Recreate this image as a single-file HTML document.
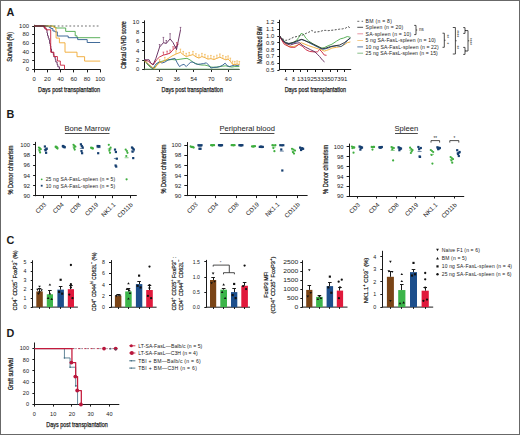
<!DOCTYPE html>
<html><head><meta charset="utf-8"><style>
html,body{margin:0;padding:0;background:#fff;}
body{width:520px;height:435px;overflow:hidden;position:relative;}
svg{position:absolute;left:0;top:0;}
text{font-family:"Liberation Sans",sans-serif;fill:#1a1a1a;stroke:#1a1a1a;stroke-width:0px;}
.t{stroke-width:0.25px;}
.m{stroke-width:0.12px;}
.r{stroke-width:0.2px;}
.n{stroke-width:0px;}
.frame{position:absolute;left:0;top:0;width:518px;height:433px;border:1px solid #686868;pointer-events:none;}
</style></head><body>
<svg width="520" height="435" viewBox="0 0 520 435">
<rect width="520" height="435" fill="#fff"/>
<text x="6.5" y="15.7" font-size="10.8" font-weight="bold" fill="#111">A</text>
<text x="6.5" y="117.9" font-size="10.8" font-weight="bold" fill="#111">B</text>
<text x="6.5" y="244.3" font-size="10.8" font-weight="bold" fill="#111">C</text>
<text x="6.5" y="337" font-size="10.8" font-weight="bold" fill="#111">D</text>
<line x1="34.5" y1="24.8" x2="34.5" y2="70" stroke="#1a1a1a" stroke-width="1"/>
<line x1="33.6" y1="69.5" x2="100.6" y2="69.5" stroke="#1a1a1a" stroke-width="1"/>
<line x1="32.2" y1="69.5" x2="34" y2="69.5" stroke="#1a1a1a" stroke-width="1"/>
<text x="29" y="71.3" font-size="5" text-anchor="end" textLength="3.3" lengthAdjust="spacingAndGlyphs" fill="#333">0</text>
<line x1="32.2" y1="60.5" x2="34" y2="60.5" stroke="#1a1a1a" stroke-width="1"/>
<text x="29" y="62.58" font-size="5" text-anchor="end" textLength="6.6" lengthAdjust="spacingAndGlyphs" fill="#333">20</text>
<line x1="32.2" y1="52.5" x2="34" y2="52.5" stroke="#1a1a1a" stroke-width="1"/>
<text x="29" y="53.86" font-size="5" text-anchor="end" textLength="6.6" lengthAdjust="spacingAndGlyphs" fill="#333">40</text>
<line x1="32.2" y1="43.5" x2="34" y2="43.5" stroke="#1a1a1a" stroke-width="1"/>
<text x="29" y="45.14" font-size="5" text-anchor="end" textLength="6.6" lengthAdjust="spacingAndGlyphs" fill="#333">60</text>
<line x1="32.2" y1="34.5" x2="34" y2="34.5" stroke="#1a1a1a" stroke-width="1"/>
<text x="29" y="36.42" font-size="5" text-anchor="end" textLength="6.6" lengthAdjust="spacingAndGlyphs" fill="#333">80</text>
<line x1="32.2" y1="26.5" x2="34" y2="26.5" stroke="#1a1a1a" stroke-width="1"/>
<text x="29" y="27.7" font-size="5" text-anchor="end" textLength="9.9" lengthAdjust="spacingAndGlyphs" fill="#333">100</text>
<line x1="34.5" y1="69.6" x2="34.5" y2="72.4" stroke="#1a1a1a" stroke-width="1"/>
<text x="34.2" y="80.5" font-size="5" text-anchor="middle" textLength="3.3" lengthAdjust="spacingAndGlyphs" fill="#333">0</text>
<line x1="47.5" y1="69.6" x2="47.5" y2="72.4" stroke="#1a1a1a" stroke-width="1"/>
<text x="47.4" y="80.5" font-size="5" text-anchor="middle" textLength="6.6" lengthAdjust="spacingAndGlyphs" fill="#333">20</text>
<line x1="60.5" y1="69.6" x2="60.5" y2="72.4" stroke="#1a1a1a" stroke-width="1"/>
<text x="60.6" y="80.5" font-size="5" text-anchor="middle" textLength="6.6" lengthAdjust="spacingAndGlyphs" fill="#333">40</text>
<line x1="73.5" y1="69.6" x2="73.5" y2="72.4" stroke="#1a1a1a" stroke-width="1"/>
<text x="73.8" y="80.5" font-size="5" text-anchor="middle" textLength="6.6" lengthAdjust="spacingAndGlyphs" fill="#333">60</text>
<line x1="87.5" y1="69.6" x2="87.5" y2="72.4" stroke="#1a1a1a" stroke-width="1"/>
<text x="87" y="80.5" font-size="5" text-anchor="middle" textLength="6.6" lengthAdjust="spacingAndGlyphs" fill="#333">80</text>
<line x1="100.5" y1="69.6" x2="100.5" y2="72.4" stroke="#1a1a1a" stroke-width="1"/>
<text x="100.2" y="80.5" font-size="5" text-anchor="middle" textLength="9.9" lengthAdjust="spacingAndGlyphs" fill="#333">100</text>
<text x="69.1" y="92.2" font-size="7.5" text-anchor="middle" textLength="62" lengthAdjust="spacingAndGlyphs" class="t">Days post transplantation</text>
<text x="12.4" y="46.9" font-size="6.8" text-anchor="middle" textLength="29.8" lengthAdjust="spacingAndGlyphs" transform="rotate(-90 12.4 46.9)" class="t">Survival (%)</text>
<polyline points="34,26 54.3,26 54.3,27.4 56,27.4 56,28 65.7,28 65.7,31.4 75.2,31.4 75.2,35.8 77,35.8 77,37.7 100.2,37.7 100.2,37.7" fill="none" stroke="#4aa84a" stroke-width="0.9" stroke-linejoin="round"/>
<polyline points="34,26 49,26 49,27.3 50.8,27.3 50.8,28.6 52.9,28.6 52.9,31 55,31 55,31.9 57.3,31.9 57.3,36 68.2,36 68.2,37.7 77.7,37.7 77.7,39.6 87.2,39.6 87.2,42.5 100.2,42.5 100.2,42.5" fill="none" stroke="#2d5b8e" stroke-width="0.9" stroke-linejoin="round"/>
<polyline points="34,26 53,26 53,27 55,27 55,28 55.8,28 55.8,29.8 56.1,29.8 56.1,38.1 59.4,38.1 59.4,42.8 65,42.8 65,52.2 77,52.2 77,56.7 84.6,56.7 84.6,61.1 100.2,61.1 100.2,61.1" fill="none" stroke="#f0a830" stroke-width="0.9" stroke-linejoin="round"/>
<polyline points="34,26 43.9,26 43.9,27.5 44.8,27.5 44.8,28.8 46.4,28.8 46.4,29.8 47,29.8 47,33 47.5,33 47.5,35.7 48.3,35.7 48.3,38 49,38 49,40 49.6,40 49.6,43.5 50.3,43.5 50.3,46 50.8,46 50.8,49 51.5,49 51.5,52.4 53.3,52.4 53.3,54.5 53.9,54.5 53.9,56.9 55.2,56.9 55.2,59.4 55.8,59.4 55.8,62 57.1,62 57.1,64.6 57.8,64.6 57.8,66.8 59.4,66.8 59.4,69.6" fill="none" stroke="#5e2357" stroke-width="0.9" stroke-linejoin="round"/>
<polyline points="34,26 44.5,26 44.5,27.8 46,27.8 46,29.8 50.7,29.8 50.7,52.2 53.9,52.2 53.9,56.5 57.4,56.5 57.4,61 60.3,61 60.3,65.2 64.5,65.2 64.5,69.6" fill="none" stroke="#c8203c" stroke-width="0.9" stroke-linejoin="round"/>
<line x1="34" y1="26" x2="46" y2="26" stroke="#333" stroke-width="0.9"/>
<line x1="46" y1="26" x2="100.2" y2="26" stroke="#555" stroke-width="0.85" stroke-dasharray="1.8 2.1"/>
<line x1="144.5" y1="20.4" x2="144.5" y2="70.1" stroke="#1a1a1a" stroke-width="1"/>
<line x1="144.1" y1="69.5" x2="239.6" y2="69.5" stroke="#1a1a1a" stroke-width="1"/>
<line x1="142.2" y1="69.5" x2="144.5" y2="69.5" stroke="#1a1a1a" stroke-width="1"/>
<text x="139.2" y="71.4" font-size="5" text-anchor="end" textLength="3.3" lengthAdjust="spacingAndGlyphs" fill="#333">0</text>
<line x1="142.2" y1="60.5" x2="144.5" y2="60.5" stroke="#1a1a1a" stroke-width="1"/>
<text x="139.2" y="62" font-size="5" text-anchor="end" textLength="3.3" lengthAdjust="spacingAndGlyphs" fill="#333">2</text>
<line x1="142.2" y1="50.5" x2="144.5" y2="50.5" stroke="#1a1a1a" stroke-width="1"/>
<text x="139.2" y="52.6" font-size="5" text-anchor="end" textLength="3.3" lengthAdjust="spacingAndGlyphs" fill="#333">4</text>
<line x1="142.2" y1="41.5" x2="144.5" y2="41.5" stroke="#1a1a1a" stroke-width="1"/>
<text x="139.2" y="43.2" font-size="5" text-anchor="end" textLength="3.3" lengthAdjust="spacingAndGlyphs" fill="#333">6</text>
<line x1="142.2" y1="32.5" x2="144.5" y2="32.5" stroke="#1a1a1a" stroke-width="1"/>
<text x="139.2" y="33.8" font-size="5" text-anchor="end" textLength="3.3" lengthAdjust="spacingAndGlyphs" fill="#333">8</text>
<line x1="142.2" y1="22.5" x2="144.5" y2="22.5" stroke="#1a1a1a" stroke-width="1"/>
<text x="139.2" y="24.4" font-size="5" text-anchor="end" textLength="6.6" lengthAdjust="spacingAndGlyphs" fill="#333">10</text>
<line x1="159.5" y1="69.9" x2="159.5" y2="71.9" stroke="#1a1a1a" stroke-width="1"/>
<text x="159.6" y="80.5" font-size="5" text-anchor="middle" textLength="6.6" lengthAdjust="spacingAndGlyphs" fill="#333">20</text>
<line x1="176.5" y1="69.9" x2="176.5" y2="71.9" stroke="#1a1a1a" stroke-width="1"/>
<text x="176.8" y="80.5" font-size="5" text-anchor="middle" textLength="6.6" lengthAdjust="spacingAndGlyphs" fill="#333">36</text>
<line x1="193.5" y1="69.9" x2="193.5" y2="71.9" stroke="#1a1a1a" stroke-width="1"/>
<text x="193.7" y="80.5" font-size="5" text-anchor="middle" textLength="6.6" lengthAdjust="spacingAndGlyphs" fill="#333">54</text>
<line x1="211.5" y1="69.9" x2="211.5" y2="71.9" stroke="#1a1a1a" stroke-width="1"/>
<text x="211.3" y="80.5" font-size="5" text-anchor="middle" textLength="6.6" lengthAdjust="spacingAndGlyphs" fill="#333">70</text>
<line x1="228.5" y1="69.9" x2="228.5" y2="71.9" stroke="#1a1a1a" stroke-width="1"/>
<text x="228.4" y="80.5" font-size="5" text-anchor="middle" textLength="6.6" lengthAdjust="spacingAndGlyphs" fill="#333">90</text>
<text x="192.2" y="92.2" font-size="7.5" text-anchor="middle" textLength="61.5" lengthAdjust="spacingAndGlyphs" class="t">Days post transplantation</text>
<text x="126.2" y="45.1" font-size="6.8" text-anchor="middle" textLength="47.8" lengthAdjust="spacingAndGlyphs" transform="rotate(-90 126.2 45.1)" class="t">Clinical GVHD score</text>
<polyline points="144.5,69 239.3,69" fill="none" stroke="#8fc48f" stroke-width="0.9" stroke-linejoin="round"/>
<polyline points="144.5,60 147,64 150,67 153,69 156,66 159,62 163,61 167,60 172,59.5 175,59.84 177.99,59.54 180.98,59.1 183.97,58.65 186.97,58.35 189.96,59.84 192.95,62.09 195.94,63.58 198.93,64.63 201.92,65.07 204.91,65.07 207.9,65.82 210.9,67.02 213.89,67.32 216.88,67.02 219.87,66.57 222.86,66.12 225.85,65.82 228.84,66.57 231.84,67.02 234.83,66.57 239.31,66.57" fill="none" stroke="#4aa84a" stroke-width="0.9" stroke-linejoin="round"/>
<polyline points="144.5,59.5 147,63 150,66 153,68.5 156,64 159,62 162,63 165,62 168,60 172,59 175,58.35 177.24,62.83 179.49,66.57 181.73,65.07 183.97,64.33 186.22,66.57 188.46,64.33 190.7,62.09 192.95,62.09 195.19,63.58 197.43,64.33 200.43,64.03 203.42,63.58 206.41,62.83 208.65,65.07 210.9,68.06 213.89,67.32 216.88,67.32 219.87,66.57 222.86,65.07 225.1,63.13 227.35,65.82 229.59,66.57 231.84,65.82 234.83,65.07 237.07,65.52 239.31,65.07" fill="none" stroke="#2d5b8e" stroke-width="0.9" stroke-linejoin="round"/>
<polyline points="144.5,61.3 147,62.5 150,65.5 154.4,68.8 157,65 159.6,62.8 164.8,60.6 168,58.6 172,56 176,54 180.4,52.3 183.23,54.62 186.22,56.56 189.21,55.66 192.95,54.62 195.94,56.86 198.93,58.05 201.92,56.56 204.91,57.61 207.9,59.1 210.9,58.65 213.89,59.55 216.88,58.35 219.87,57.16 222.86,58.65 225.85,59.85 228.1,59.1 230.34,61.34 232.58,64.33 234.83,64.63 237.07,64.03 239.31,64.63" fill="none" stroke="#f0a830" stroke-width="0.9" stroke-linejoin="round"/>
<polyline points="144.6,59.8 148.4,61.3 151.4,63.6 153.5,64.5 156.6,59.8 159.6,56.9 163.4,55.1 167.1,54.2 170.1,53.1 173.1,49.7 176.8,45.6 178.6,43.8" fill="none" stroke="#c8203c" stroke-width="0.9" stroke-linejoin="round"/>
<polyline points="144.6,59.8 149.1,59.8 150.6,62.8 152.9,65 155.9,58.4 159.6,47.1 163.4,42.7 166.3,43.4 170.1,38.9 173.1,42.7 176.5,49.6 180.5,30" fill="none" stroke="#5e2357" stroke-width="0.9" stroke-linejoin="round"/>
<line x1="163.4" y1="42.7" x2="163.4" y2="37.4" stroke="#5e2357" stroke-width="0.6"/>
<line x1="162.6" y1="37.4" x2="164.2" y2="37.4" stroke="#5e2357" stroke-width="0.6"/>
<line x1="170.1" y1="38.9" x2="170.1" y2="33.7" stroke="#5e2357" stroke-width="0.6"/>
<line x1="169.3" y1="33.7" x2="170.9" y2="33.7" stroke="#5e2357" stroke-width="0.6"/>
<line x1="180.5" y1="30" x2="180.5" y2="27.4" stroke="#5e2357" stroke-width="0.6"/>
<line x1="179.7" y1="27.4" x2="181.3" y2="27.4" stroke="#5e2357" stroke-width="0.6"/>
<line x1="166.3" y1="43.4" x2="166.3" y2="40.5" stroke="#5e2357" stroke-width="0.6"/>
<line x1="165.5" y1="40.5" x2="167.1" y2="40.5" stroke="#5e2357" stroke-width="0.6"/>
<line x1="176.5" y1="49.6" x2="176.5" y2="46.5" stroke="#5e2357" stroke-width="0.6"/>
<line x1="175.7" y1="46.5" x2="177.3" y2="46.5" stroke="#5e2357" stroke-width="0.6"/>
<line x1="159.6" y1="47.1" x2="159.6" y2="44.5" stroke="#5e2357" stroke-width="0.6"/>
<line x1="158.8" y1="44.5" x2="160.4" y2="44.5" stroke="#5e2357" stroke-width="0.6"/>
<line x1="163.4" y1="55.1" x2="163.4" y2="52.1" stroke="#c8203c" stroke-width="0.6"/>
<line x1="162.6" y1="52.1" x2="164.2" y2="52.1" stroke="#c8203c" stroke-width="0.6"/>
<line x1="167.1" y1="54.2" x2="167.1" y2="51.2" stroke="#c8203c" stroke-width="0.6"/>
<line x1="166.3" y1="51.2" x2="167.9" y2="51.2" stroke="#c8203c" stroke-width="0.6"/>
<line x1="170.1" y1="53.1" x2="170.1" y2="50.1" stroke="#c8203c" stroke-width="0.6"/>
<line x1="169.3" y1="50.1" x2="170.9" y2="50.1" stroke="#c8203c" stroke-width="0.6"/>
<line x1="173.1" y1="49.7" x2="173.1" y2="46.7" stroke="#c8203c" stroke-width="0.6"/>
<line x1="172.3" y1="46.7" x2="173.9" y2="46.7" stroke="#c8203c" stroke-width="0.6"/>
<line x1="176.8" y1="45.6" x2="176.8" y2="42.6" stroke="#c8203c" stroke-width="0.6"/>
<line x1="176" y1="42.6" x2="177.6" y2="42.6" stroke="#c8203c" stroke-width="0.6"/>
<line x1="176" y1="54" x2="176" y2="50.8" stroke="#f0a830" stroke-width="0.6"/>
<line x1="175.2" y1="50.8" x2="176.8" y2="50.8" stroke="#f0a830" stroke-width="0.6"/>
<line x1="180.4" y1="52.3" x2="180.4" y2="49.1" stroke="#f0a830" stroke-width="0.6"/>
<line x1="179.6" y1="49.1" x2="181.2" y2="49.1" stroke="#f0a830" stroke-width="0.6"/>
<line x1="183.23" y1="54.62" x2="183.23" y2="51.42" stroke="#f0a830" stroke-width="0.6"/>
<line x1="182.43" y1="51.42" x2="184.03" y2="51.42" stroke="#f0a830" stroke-width="0.6"/>
<line x1="186.22" y1="56.56" x2="186.22" y2="53.36" stroke="#f0a830" stroke-width="0.6"/>
<line x1="185.42" y1="53.36" x2="187.02" y2="53.36" stroke="#f0a830" stroke-width="0.6"/>
<line x1="189.21" y1="55.66" x2="189.21" y2="52.46" stroke="#f0a830" stroke-width="0.6"/>
<line x1="188.41" y1="52.46" x2="190.01" y2="52.46" stroke="#f0a830" stroke-width="0.6"/>
<line x1="192.95" y1="54.62" x2="192.95" y2="51.42" stroke="#f0a830" stroke-width="0.6"/>
<line x1="192.15" y1="51.42" x2="193.75" y2="51.42" stroke="#f0a830" stroke-width="0.6"/>
<line x1="195.94" y1="56.86" x2="195.94" y2="53.66" stroke="#f0a830" stroke-width="0.6"/>
<line x1="195.14" y1="53.66" x2="196.74" y2="53.66" stroke="#f0a830" stroke-width="0.6"/>
<line x1="198.93" y1="58.05" x2="198.93" y2="54.85" stroke="#f0a830" stroke-width="0.6"/>
<line x1="198.13" y1="54.85" x2="199.73" y2="54.85" stroke="#f0a830" stroke-width="0.6"/>
<line x1="201.92" y1="56.56" x2="201.92" y2="53.36" stroke="#f0a830" stroke-width="0.6"/>
<line x1="201.12" y1="53.36" x2="202.72" y2="53.36" stroke="#f0a830" stroke-width="0.6"/>
<line x1="204.91" y1="57.61" x2="204.91" y2="54.41" stroke="#f0a830" stroke-width="0.6"/>
<line x1="204.11" y1="54.41" x2="205.71" y2="54.41" stroke="#f0a830" stroke-width="0.6"/>
<line x1="207.9" y1="59.1" x2="207.9" y2="55.9" stroke="#f0a830" stroke-width="0.6"/>
<line x1="207.1" y1="55.9" x2="208.7" y2="55.9" stroke="#f0a830" stroke-width="0.6"/>
<line x1="210.9" y1="58.65" x2="210.9" y2="55.45" stroke="#f0a830" stroke-width="0.6"/>
<line x1="210.1" y1="55.45" x2="211.7" y2="55.45" stroke="#f0a830" stroke-width="0.6"/>
<line x1="213.89" y1="59.55" x2="213.89" y2="56.35" stroke="#f0a830" stroke-width="0.6"/>
<line x1="213.09" y1="56.35" x2="214.69" y2="56.35" stroke="#f0a830" stroke-width="0.6"/>
<line x1="216.88" y1="58.35" x2="216.88" y2="55.15" stroke="#f0a830" stroke-width="0.6"/>
<line x1="216.08" y1="55.15" x2="217.68" y2="55.15" stroke="#f0a830" stroke-width="0.6"/>
<line x1="219.87" y1="57.16" x2="219.87" y2="53.96" stroke="#f0a830" stroke-width="0.6"/>
<line x1="219.07" y1="53.96" x2="220.67" y2="53.96" stroke="#f0a830" stroke-width="0.6"/>
<line x1="222.86" y1="58.65" x2="222.86" y2="55.45" stroke="#f0a830" stroke-width="0.6"/>
<line x1="222.06" y1="55.45" x2="223.66" y2="55.45" stroke="#f0a830" stroke-width="0.6"/>
<line x1="225.85" y1="59.85" x2="225.85" y2="56.65" stroke="#f0a830" stroke-width="0.6"/>
<line x1="225.05" y1="56.65" x2="226.65" y2="56.65" stroke="#f0a830" stroke-width="0.6"/>
<line x1="228.1" y1="59.1" x2="228.1" y2="55.9" stroke="#f0a830" stroke-width="0.6"/>
<line x1="227.3" y1="55.9" x2="228.9" y2="55.9" stroke="#f0a830" stroke-width="0.6"/>
<line x1="230.34" y1="61.34" x2="230.34" y2="58.14" stroke="#f0a830" stroke-width="0.6"/>
<line x1="229.54" y1="58.14" x2="231.14" y2="58.14" stroke="#f0a830" stroke-width="0.6"/>
<line x1="232.58" y1="64.33" x2="232.58" y2="61.13" stroke="#f0a830" stroke-width="0.6"/>
<line x1="231.78" y1="61.13" x2="233.38" y2="61.13" stroke="#f0a830" stroke-width="0.6"/>
<line x1="234.83" y1="64.63" x2="234.83" y2="61.43" stroke="#f0a830" stroke-width="0.6"/>
<line x1="234.03" y1="61.43" x2="235.63" y2="61.43" stroke="#f0a830" stroke-width="0.6"/>
<line x1="237.07" y1="64.03" x2="237.07" y2="60.83" stroke="#f0a830" stroke-width="0.6"/>
<line x1="236.27" y1="60.83" x2="237.87" y2="60.83" stroke="#f0a830" stroke-width="0.6"/>
<line x1="239.31" y1="64.63" x2="239.31" y2="61.43" stroke="#f0a830" stroke-width="0.6"/>
<line x1="238.51" y1="61.43" x2="240.11" y2="61.43" stroke="#f0a830" stroke-width="0.6"/>
<line x1="159.6" y1="62.8" x2="159.6" y2="59.6" stroke="#f0a830" stroke-width="0.6"/>
<line x1="158.8" y1="59.6" x2="160.4" y2="59.6" stroke="#f0a830" stroke-width="0.6"/>
<line x1="164.8" y1="60.6" x2="164.8" y2="57.4" stroke="#f0a830" stroke-width="0.6"/>
<line x1="164" y1="57.4" x2="165.6" y2="57.4" stroke="#f0a830" stroke-width="0.6"/>
<line x1="279.5" y1="19.8" x2="279.5" y2="70.2" stroke="#1a1a1a" stroke-width="1"/>
<line x1="278.9" y1="69.5" x2="351.2" y2="69.5" stroke="#1a1a1a" stroke-width="1"/>
<line x1="277.3" y1="22.5" x2="279.3" y2="22.5" stroke="#1a1a1a" stroke-width="1"/>
<text x="274.3" y="24.24" font-size="5.2" text-anchor="end" textLength="8.2" lengthAdjust="spacingAndGlyphs" fill="#333">1.2</text>
<line x1="277.3" y1="29.5" x2="279.3" y2="29.5" stroke="#1a1a1a" stroke-width="1"/>
<text x="274.3" y="31.07" font-size="5.2" text-anchor="end" textLength="8.2" lengthAdjust="spacingAndGlyphs" fill="#333">1.1</text>
<line x1="277.3" y1="36.5" x2="279.3" y2="36.5" stroke="#1a1a1a" stroke-width="1"/>
<text x="274.3" y="37.9" font-size="5.2" text-anchor="end" textLength="8.2" lengthAdjust="spacingAndGlyphs" fill="#333">1.0</text>
<line x1="277.3" y1="42.5" x2="279.3" y2="42.5" stroke="#1a1a1a" stroke-width="1"/>
<text x="274.3" y="44.73" font-size="5.2" text-anchor="end" textLength="8.2" lengthAdjust="spacingAndGlyphs" fill="#333">0.9</text>
<line x1="277.3" y1="49.5" x2="279.3" y2="49.5" stroke="#1a1a1a" stroke-width="1"/>
<text x="274.3" y="51.56" font-size="5.2" text-anchor="end" textLength="8.2" lengthAdjust="spacingAndGlyphs" fill="#333">0.8</text>
<line x1="277.3" y1="56.5" x2="279.3" y2="56.5" stroke="#1a1a1a" stroke-width="1"/>
<text x="274.3" y="58.39" font-size="5.2" text-anchor="end" textLength="8.2" lengthAdjust="spacingAndGlyphs" fill="#333">0.7</text>
<line x1="277.3" y1="63.5" x2="279.3" y2="63.5" stroke="#1a1a1a" stroke-width="1"/>
<text x="274.3" y="65.22" font-size="5.2" text-anchor="end" textLength="8.2" lengthAdjust="spacingAndGlyphs" fill="#333">0.6</text>
<line x1="277.3" y1="70.5" x2="279.3" y2="70.5" stroke="#1a1a1a" stroke-width="1"/>
<text x="274.3" y="72.05" font-size="5.2" text-anchor="end" textLength="8.2" lengthAdjust="spacingAndGlyphs" fill="#333">0.5</text>
<line x1="285.5" y1="69.8" x2="285.5" y2="72" stroke="#1a1a1a" stroke-width="1"/>
<line x1="293.5" y1="69.8" x2="293.5" y2="72" stroke="#1a1a1a" stroke-width="1"/>
<line x1="300.5" y1="69.8" x2="300.5" y2="72" stroke="#1a1a1a" stroke-width="1"/>
<line x1="307.5" y1="69.8" x2="307.5" y2="72" stroke="#1a1a1a" stroke-width="1"/>
<line x1="315.5" y1="69.8" x2="315.5" y2="72" stroke="#1a1a1a" stroke-width="1"/>
<line x1="322.5" y1="69.8" x2="322.5" y2="72" stroke="#1a1a1a" stroke-width="1"/>
<line x1="330.5" y1="69.8" x2="330.5" y2="72" stroke="#1a1a1a" stroke-width="1"/>
<line x1="337.5" y1="69.8" x2="337.5" y2="72" stroke="#1a1a1a" stroke-width="1"/>
<line x1="344.5" y1="69.8" x2="344.5" y2="72" stroke="#1a1a1a" stroke-width="1"/>
<text x="286.1" y="81.2" font-size="5.3" text-anchor="middle" fill="#333">4</text>
<text x="293.4" y="81.2" font-size="5.3" text-anchor="middle" fill="#333">8</text>
<text x="296.9" y="81.2" font-size="5.3" textLength="50.6" lengthAdjust="spacingAndGlyphs" fill="#333">131925333507391</text>
<text x="315.4" y="92.2" font-size="7.5" text-anchor="middle" textLength="61.5" lengthAdjust="spacingAndGlyphs" class="t">Days post transplantation</text>
<text x="261.7" y="45" font-size="6.8" text-anchor="middle" textLength="37.3" lengthAdjust="spacingAndGlyphs" transform="rotate(-90 261.7 45)" class="t">Normalized BW</text>
<polyline points="279.62,36.08 282.69,41.15 285.77,44.23 288.85,46.54 293.46,46.54 298.08,45 301.15,42.69 305,44.23 308.85,45.77 313.46,47.31 318.08,48.85 321.15,49.62 324.23,51.15 326.54,50.38 328.85,49.62 331.92,48.08 336.54,47.31 341.15,46.54 345,44.23 347.31,42.69 350.38,41.92" fill="none" stroke="#f0a830" stroke-width="0.9" stroke-linejoin="round"/>
<polyline points="279.62,36.08 282.69,39.62 285.77,42.38 288.85,43.92 292.69,42.69 296.54,40.38 298.85,37.31 301.15,33.46 303.46,34.23 305.77,38.08 308.85,41.15 313.46,44.23 318.08,46.54 321.15,48.08 324.23,47.62 328.08,45.77 331.92,44.23 336.54,41.15 340.38,38.85 343.46,38.08 347.31,36.54 350.38,37.31" fill="none" stroke="#4aa84a" stroke-width="0.9" stroke-linejoin="round"/>
<polyline points="279.62,36.08 282.69,40.38 285.77,42.69 288.85,43.46 291.92,43.46 296.54,41.92 301.15,39.62 305,40.38 308.85,42.69 313.46,45 318.08,47.31 321.15,48.85 324.23,49.15 328.08,48.08 331.92,46.54 336.54,45.77 341.15,46.54 345,43.46 348.08,39.62 350.38,38.08" fill="none" stroke="#2d5b8e" stroke-width="0.9" stroke-linejoin="round"/>
<polyline points="279.62,36.08 281.92,40.38 284.23,44.23 287.31,45.77 290.38,47.31 295,47.31 298.85,44.23 302.69,46.54 305.77,49.62 309.62,51.46 314.23,51.92 317.31,51.92 319.62,49.62 321.92,51.92 324.23,55 326.54,55.31" fill="none" stroke="#c8203c" stroke-width="0.9" stroke-linejoin="round"/>
<polyline points="279.62,36.08 282.69,40.38 285.77,43 288.85,43.46 293.46,42.38 298.08,40.38 301.92,39.31 305.77,41.15 310.38,42.69 315,45 319.62,47.31 322.69,48.85 325.77,48.08 330.38,46.54 335,45.77 339.62,45 344.23,42.69 347.31,40.38 350.38,38.08" fill="none" stroke="#2a2a2a" stroke-width="0.9" stroke-linejoin="round"/>
<polyline points="279.62,36.08 281.92,39.62 284.23,42.38 287.31,44.23 290.38,45 295,43.46 299.62,42.69 301.92,45 305.77,47.31 310.38,49.62 315,51.92 317.31,54.23 319.62,56.54 322.69,60.38 324.54,61.92" fill="none" stroke="#5e2357" stroke-width="0.9" stroke-linejoin="round"/>
<polyline points="279.62,36.08 282.69,38.85 285.77,40.38 288.85,39.62 293.46,37.31 298.08,36.23 302.69,35 305.77,33.46 308.85,32.23 311.92,30.38 314.23,32.23 316.54,31.92 319.62,31.62 321.15,31.15 323.46,30.38 325.77,30.38 328.08,30.69 330.38,30.38 333.46,30.08 336.54,29.62 339.62,29.15 342.69,28.85 345.77,28.08 348.08,26.54 350.38,28.08" fill="none" stroke="#3a3a3a" stroke-width="0.9" stroke-linejoin="round" stroke-dasharray="2 1.5"/>
<line x1="357.3" y1="21.3" x2="363.1" y2="21.3" stroke="#444" stroke-width="0.8" stroke-dasharray="2 2.3"/>
<text x="365.6" y="23.2" font-size="5.1" textLength="26.3" lengthAdjust="spacing" fill="#444">BM (n = 8)</text>
<line x1="357.3" y1="27.3" x2="363.1" y2="27.3" stroke="#222" stroke-width="0.8"/>
<text x="365.6" y="29.2" font-size="5.1" textLength="37.6" lengthAdjust="spacing" fill="#444">Spleen (n = 20)</text>
<line x1="357.3" y1="33.8" x2="363.1" y2="33.8" stroke="#e07a8a" stroke-width="0.8"/>
<text x="365.6" y="35.7" font-size="5.1" textLength="45.7" lengthAdjust="spacing" fill="#444">SA-spleen (n = 10)</text>
<line x1="357.3" y1="40.5" x2="363.1" y2="40.5" stroke="#f2c070" stroke-width="0.8"/>
<text x="365.6" y="42.4" font-size="5.1" textLength="70.2" lengthAdjust="spacing" fill="#444">5 ng SA-FasL-spleen (n = 10)</text>
<line x1="357.3" y1="46.9" x2="363.1" y2="46.9" stroke="#2d5b8e" stroke-width="0.8"/>
<text x="365.6" y="48.8" font-size="5.1" textLength="73.1" lengthAdjust="spacing" fill="#444">10 ng SA-FasL-spleen (n = 22)</text>
<line x1="357.3" y1="53.2" x2="363.1" y2="53.2" stroke="#6aae6a" stroke-width="0.8"/>
<text x="365.6" y="55.1" font-size="5.1" textLength="72.2" lengthAdjust="spacing" fill="#444">25 ng SA-FasL-spleen (n = 15)</text>
<polyline points="414.2,25.4 416,25.4 416,34.6 414.2,34.6" fill="none" stroke="#222" stroke-width="0.8" stroke-linejoin="round"/>
<line x1="416" y1="30" x2="417.2" y2="30" stroke="#222" stroke-width="0.8"/>
<text x="419" y="31.4" font-size="5" textLength="4.7" lengthAdjust="spacingAndGlyphs" fill="#333">ns</text>
<polyline points="442.5,33.2 444.3,33.2 444.3,47.3 442.5,47.3" fill="none" stroke="#222" stroke-width="0.8" stroke-linejoin="round"/>
<line x1="444.3" y1="40.25" x2="445.5" y2="40.25" stroke="#222" stroke-width="0.8"/>
<polyline points="452.8,27.5 455.4,27.5 455.4,54 452.8,54" fill="none" stroke="#222" stroke-width="0.8" stroke-linejoin="round"/>
<line x1="455.4" y1="40.75" x2="456.6" y2="40.75" stroke="#222" stroke-width="0.8"/>
<polyline points="463.2,27.6 465,27.6 465,33.4 463.2,33.4" fill="none" stroke="#222" stroke-width="0.8" stroke-linejoin="round"/>
<line x1="465" y1="30.5" x2="466.2" y2="30.5" stroke="#222" stroke-width="0.8"/>
<polyline points="463.2,47.4 465,47.4 465,54.4 463.2,54.4" fill="none" stroke="#222" stroke-width="0.8" stroke-linejoin="round"/>
<line x1="465" y1="50.9" x2="466.2" y2="50.9" stroke="#222" stroke-width="0.8"/>
<polyline points="465.4,30.6 468,30.6 468,51 465.4,51" fill="none" stroke="#222" stroke-width="0.8" stroke-linejoin="round"/>
<line x1="468" y1="40.8" x2="469.2" y2="40.8" stroke="#222" stroke-width="0.8"/>
<text x="444.6" y="36.3" font-size="4.6" text-anchor="middle" transform="rotate(90 444.6 36.3)" fill="#222">**</text>
<text x="444.6" y="43.5" font-size="4.6" text-anchor="middle" transform="rotate(90 444.6 43.5)" fill="#222">*</text>
<text x="455.3" y="33.8" font-size="4.6" text-anchor="middle" transform="rotate(90 455.3 33.8)" fill="#222">****</text>
<text x="455.3" y="47.3" font-size="4.6" text-anchor="middle" transform="rotate(90 455.3 47.3)" fill="#222">**</text>
<text x="468" y="41.5" font-size="4.6" text-anchor="middle" transform="rotate(90 468 41.5)" fill="#222">****</text>
<line x1="35.5" y1="141.9" x2="35.5" y2="196.2" stroke="#1a1a1a" stroke-width="1"/>
<line x1="35.5" y1="195.5" x2="136.8" y2="195.5" stroke="#1a1a1a" stroke-width="1"/>
<line x1="33.1" y1="195.5" x2="35.9" y2="195.5" stroke="#1a1a1a" stroke-width="1"/>
<text x="30" y="198" font-size="5.4" text-anchor="end" textLength="6.5" lengthAdjust="spacingAndGlyphs" fill="#333">90</text>
<line x1="33.1" y1="185.5" x2="35.9" y2="185.5" stroke="#1a1a1a" stroke-width="1"/>
<text x="30" y="187.82" font-size="5.4" text-anchor="end" textLength="6.5" lengthAdjust="spacingAndGlyphs" fill="#333">92</text>
<line x1="33.1" y1="175.5" x2="35.9" y2="175.5" stroke="#1a1a1a" stroke-width="1"/>
<text x="30" y="177.64" font-size="5.4" text-anchor="end" textLength="6.5" lengthAdjust="spacingAndGlyphs" fill="#333">94</text>
<line x1="33.1" y1="165.5" x2="35.9" y2="165.5" stroke="#1a1a1a" stroke-width="1"/>
<text x="30" y="167.46" font-size="5.4" text-anchor="end" textLength="6.5" lengthAdjust="spacingAndGlyphs" fill="#333">96</text>
<line x1="33.1" y1="155.5" x2="35.9" y2="155.5" stroke="#1a1a1a" stroke-width="1"/>
<text x="30" y="157.28" font-size="5.4" text-anchor="end" textLength="6.5" lengthAdjust="spacingAndGlyphs" fill="#333">98</text>
<line x1="33.1" y1="144.5" x2="35.9" y2="144.5" stroke="#1a1a1a" stroke-width="1"/>
<text x="30" y="147.1" font-size="5.4" text-anchor="end" textLength="9.75" lengthAdjust="spacingAndGlyphs" fill="#333">100</text>
<line x1="43.5" y1="195.8" x2="43.5" y2="198.2" stroke="#1a1a1a" stroke-width="1"/>
<text x="46.75" y="205" font-size="6.2" text-anchor="end" transform="rotate(-45 46.75 205)" fill="#2a2a2a">CD3</text>
<line x1="61.5" y1="195.8" x2="61.5" y2="198.2" stroke="#1a1a1a" stroke-width="1"/>
<text x="64.1" y="205" font-size="6.2" text-anchor="end" transform="rotate(-45 64.1 205)" fill="#2a2a2a">CD4</text>
<line x1="78.5" y1="195.8" x2="78.5" y2="198.2" stroke="#1a1a1a" stroke-width="1"/>
<text x="81.2" y="205" font-size="6.2" text-anchor="end" transform="rotate(-45 81.2 205)" fill="#2a2a2a">CD8</text>
<line x1="95.5" y1="195.8" x2="95.5" y2="198.2" stroke="#1a1a1a" stroke-width="1"/>
<text x="98.6" y="205" font-size="6.2" text-anchor="end" transform="rotate(-45 98.6 205)" fill="#2a2a2a">CD19</text>
<line x1="112.5" y1="195.8" x2="112.5" y2="198.2" stroke="#1a1a1a" stroke-width="1"/>
<text x="115.9" y="205" font-size="6.2" text-anchor="end" transform="rotate(-45 115.9 205)" fill="#2a2a2a">NK1.1</text>
<line x1="130.5" y1="195.8" x2="130.5" y2="198.2" stroke="#1a1a1a" stroke-width="1"/>
<text x="133.1" y="205" font-size="6.2" text-anchor="end" transform="rotate(-45 133.1 205)" fill="#2a2a2a">CD11b</text>
<text x="87.2" y="130.5" font-size="8" text-anchor="middle" textLength="45.6" lengthAdjust="spacingAndGlyphs" fill="#222" class="n">Bone Marrow</text>
<line x1="64.9" y1="133.5" x2="109.5" y2="133.5" stroke="#2a2a2a" stroke-width="0.85"/>
<text x="13.4" y="170" font-size="6.3" text-anchor="middle" textLength="49" lengthAdjust="spacingAndGlyphs" transform="rotate(-90 13.4 170)" fill="#333" class="t">% Donor chimerism</text>
<circle cx="38.9" cy="147.5" r="1.1" fill="#3fae3f"/>
<circle cx="40.7" cy="149" r="1.1" fill="#3fae3f"/>
<circle cx="39.48" cy="150.7" r="1.1" fill="#3fae3f"/>
<circle cx="40.11" cy="152.4" r="1.1" fill="#3fae3f"/>
<circle cx="39.8" cy="148.2" r="1.1" fill="#3fae3f"/>
<line x1="37.8" y1="149.56" x2="41.8" y2="149.56" stroke="#3fae3f" stroke-width="0.6"/>
<circle cx="55.7" cy="146.5" r="1.1" fill="#3fae3f"/>
<circle cx="57.5" cy="148.6" r="1.1" fill="#3fae3f"/>
<circle cx="56.29" cy="147.4" r="1.1" fill="#3fae3f"/>
<circle cx="56.91" cy="147.8" r="1.1" fill="#3fae3f"/>
<circle cx="56.6" cy="146.9" r="1.1" fill="#3fae3f"/>
<line x1="54.6" y1="147.44" x2="58.6" y2="147.44" stroke="#3fae3f" stroke-width="0.6"/>
<circle cx="73.5" cy="144.8" r="1.1" fill="#3fae3f"/>
<circle cx="75.3" cy="146.5" r="1.1" fill="#3fae3f"/>
<circle cx="74.09" cy="148" r="1.1" fill="#3fae3f"/>
<circle cx="74.72" cy="149.6" r="1.1" fill="#3fae3f"/>
<circle cx="74.4" cy="145.9" r="1.1" fill="#3fae3f"/>
<line x1="72.4" y1="146.96" x2="76.4" y2="146.96" stroke="#3fae3f" stroke-width="0.6"/>
<circle cx="91.1" cy="147.5" r="1.1" fill="#3fae3f"/>
<circle cx="92.9" cy="148.6" r="1.1" fill="#3fae3f"/>
<circle cx="91.69" cy="148" r="1.1" fill="#3fae3f"/>
<circle cx="92.31" cy="147.9" r="1.1" fill="#3fae3f"/>
<circle cx="92" cy="148.3" r="1.1" fill="#3fae3f"/>
<line x1="90" y1="148.06" x2="94" y2="148.06" stroke="#3fae3f" stroke-width="0.6"/>
<circle cx="108.8" cy="144.8" r="1.1" fill="#3fae3f"/>
<circle cx="110.6" cy="147.5" r="1.1" fill="#3fae3f"/>
<circle cx="109.39" cy="150.7" r="1.1" fill="#3fae3f"/>
<circle cx="110.02" cy="152.8" r="1.1" fill="#3fae3f"/>
<circle cx="109.7" cy="149" r="1.1" fill="#3fae3f"/>
<line x1="107.7" y1="148.96" x2="111.7" y2="148.96" stroke="#3fae3f" stroke-width="0.6"/>
<circle cx="125.7" cy="149.6" r="1.1" fill="#3fae3f"/>
<circle cx="127.5" cy="152.8" r="1.1" fill="#3fae3f"/>
<circle cx="126.28" cy="156" r="1.1" fill="#3fae3f"/>
<circle cx="126.91" cy="151" r="1.1" fill="#3fae3f"/>
<circle cx="126.6" cy="179.3" r="1.1" fill="#3fae3f"/>
<line x1="124.6" y1="157.74" x2="128.6" y2="157.74" stroke="#3fae3f" stroke-width="0.6"/>
<rect x="43.8" y="145.4" width="2.2" height="2.2" fill="#163f70"/>
<rect x="45.6" y="147.5" width="2.2" height="2.2" fill="#163f70"/>
<rect x="44.38" y="149.2" width="2.2" height="2.2" fill="#163f70"/>
<rect x="45.01" y="151.7" width="2.2" height="2.2" fill="#163f70"/>
<rect x="44.7" y="148.3" width="2.2" height="2.2" fill="#163f70"/>
<line x1="43.8" y1="149.52" x2="47.8" y2="149.52" stroke="#163f70" stroke-width="0.6"/>
<rect x="61.8" y="144.9" width="2.2" height="2.2" fill="#163f70"/>
<rect x="63.6" y="146.2" width="2.2" height="2.2" fill="#163f70"/>
<rect x="62.38" y="145.4" width="2.2" height="2.2" fill="#163f70"/>
<rect x="63.01" y="145.7" width="2.2" height="2.2" fill="#163f70"/>
<rect x="62.7" y="145.9" width="2.2" height="2.2" fill="#163f70"/>
<line x1="61.8" y1="146.72" x2="65.8" y2="146.72" stroke="#163f70" stroke-width="0.6"/>
<rect x="79.8" y="143.2" width="2.2" height="2.2" fill="#163f70"/>
<rect x="81.6" y="146.4" width="2.2" height="2.2" fill="#163f70"/>
<rect x="80.39" y="150" width="2.2" height="2.2" fill="#163f70"/>
<rect x="81.02" y="152.1" width="2.2" height="2.2" fill="#163f70"/>
<rect x="80.7" y="144.9" width="2.2" height="2.2" fill="#163f70"/>
<line x1="79.8" y1="148.42" x2="83.8" y2="148.42" stroke="#163f70" stroke-width="0.6"/>
<rect x="96.5" y="144.9" width="2.2" height="2.2" fill="#163f70"/>
<rect x="98.3" y="145.2" width="2.2" height="2.2" fill="#163f70"/>
<rect x="97.09" y="152.1" width="2.2" height="2.2" fill="#163f70"/>
<rect x="97.72" y="145" width="2.2" height="2.2" fill="#163f70"/>
<rect x="97.4" y="145.5" width="2.2" height="2.2" fill="#163f70"/>
<line x1="96.5" y1="147.64" x2="100.5" y2="147.64" stroke="#163f70" stroke-width="0.6"/>
<rect x="113.9" y="148.5" width="2.2" height="2.2" fill="#163f70"/>
<rect x="115.7" y="157.6" width="2.2" height="2.2" fill="#163f70"/>
<rect x="114.49" y="164.4" width="2.2" height="2.2" fill="#163f70"/>
<rect x="115.12" y="165.5" width="2.2" height="2.2" fill="#163f70"/>
<rect x="114.8" y="150.9" width="2.2" height="2.2" fill="#163f70"/>
<line x1="113.9" y1="158.48" x2="117.9" y2="158.48" stroke="#163f70" stroke-width="0.6"/>
<rect x="130.9" y="146.4" width="2.2" height="2.2" fill="#163f70"/>
<rect x="132.7" y="148.4" width="2.2" height="2.2" fill="#163f70"/>
<rect x="131.49" y="150.6" width="2.2" height="2.2" fill="#163f70"/>
<rect x="132.12" y="157" width="2.2" height="2.2" fill="#163f70"/>
<rect x="131.8" y="147.4" width="2.2" height="2.2" fill="#163f70"/>
<line x1="130.9" y1="151.06" x2="134.9" y2="151.06" stroke="#163f70" stroke-width="0.6"/>
<circle cx="41.7" cy="179.3" r="0.9" fill="#3fae3f"/>
<text x="45.7" y="181.1" font-size="5" textLength="69.5" lengthAdjust="spacing" fill="#444">25 ng SA-FasL-spleen (n = 5)</text>
<rect x="40.8" y="184.8" width="1.8" height="1.8" fill="#163f70"/>
<text x="45.7" y="187.5" font-size="5" textLength="69.5" lengthAdjust="spacing" fill="#444">10 ng SA-FasL-spleen (n = 5)</text>
<line x1="187.5" y1="142.1" x2="187.5" y2="196.1" stroke="#1a1a1a" stroke-width="1"/>
<line x1="186.7" y1="195.5" x2="307.6" y2="195.5" stroke="#1a1a1a" stroke-width="1"/>
<line x1="184.3" y1="195.5" x2="187.1" y2="195.5" stroke="#1a1a1a" stroke-width="1"/>
<text x="181.2" y="197.9" font-size="5.4" text-anchor="end" textLength="6.5" lengthAdjust="spacingAndGlyphs" fill="#333">90</text>
<line x1="184.3" y1="185.5" x2="187.1" y2="185.5" stroke="#1a1a1a" stroke-width="1"/>
<text x="181.2" y="187.78" font-size="5.4" text-anchor="end" textLength="6.5" lengthAdjust="spacingAndGlyphs" fill="#333">92</text>
<line x1="184.3" y1="175.5" x2="187.1" y2="175.5" stroke="#1a1a1a" stroke-width="1"/>
<text x="181.2" y="177.66" font-size="5.4" text-anchor="end" textLength="6.5" lengthAdjust="spacingAndGlyphs" fill="#333">94</text>
<line x1="184.3" y1="165.5" x2="187.1" y2="165.5" stroke="#1a1a1a" stroke-width="1"/>
<text x="181.2" y="167.54" font-size="5.4" text-anchor="end" textLength="6.5" lengthAdjust="spacingAndGlyphs" fill="#333">96</text>
<line x1="184.3" y1="155.5" x2="187.1" y2="155.5" stroke="#1a1a1a" stroke-width="1"/>
<text x="181.2" y="157.42" font-size="5.4" text-anchor="end" textLength="6.5" lengthAdjust="spacingAndGlyphs" fill="#333">98</text>
<line x1="184.3" y1="145.5" x2="187.1" y2="145.5" stroke="#1a1a1a" stroke-width="1"/>
<text x="181.2" y="147.3" font-size="5.4" text-anchor="end" textLength="9.75" lengthAdjust="spacingAndGlyphs" fill="#333">100</text>
<line x1="195.5" y1="195.7" x2="195.5" y2="198.1" stroke="#1a1a1a" stroke-width="1"/>
<text x="198.3" y="204.9" font-size="6.2" text-anchor="end" transform="rotate(-45 198.3 204.9)" fill="#2a2a2a">CD3</text>
<line x1="215.5" y1="195.7" x2="215.5" y2="198.1" stroke="#1a1a1a" stroke-width="1"/>
<text x="218.7" y="204.9" font-size="6.2" text-anchor="end" transform="rotate(-45 218.7 204.9)" fill="#2a2a2a">CD4</text>
<line x1="236.5" y1="195.7" x2="236.5" y2="198.1" stroke="#1a1a1a" stroke-width="1"/>
<text x="239.1" y="204.9" font-size="6.2" text-anchor="end" transform="rotate(-45 239.1 204.9)" fill="#2a2a2a">CD8</text>
<line x1="256.5" y1="195.7" x2="256.5" y2="198.1" stroke="#1a1a1a" stroke-width="1"/>
<text x="259.5" y="204.9" font-size="6.2" text-anchor="end" transform="rotate(-45 259.5 204.9)" fill="#2a2a2a">CD19</text>
<line x1="276.5" y1="195.7" x2="276.5" y2="198.1" stroke="#1a1a1a" stroke-width="1"/>
<text x="279.9" y="204.9" font-size="6.2" text-anchor="end" transform="rotate(-45 279.9 204.9)" fill="#2a2a2a">NK1.1</text>
<line x1="297.5" y1="195.7" x2="297.5" y2="198.1" stroke="#1a1a1a" stroke-width="1"/>
<text x="300.3" y="204.9" font-size="6.2" text-anchor="end" transform="rotate(-45 300.3 204.9)" fill="#2a2a2a">CD11b</text>
<text x="247.15" y="130.5" font-size="8" text-anchor="middle" textLength="55.5" lengthAdjust="spacingAndGlyphs" fill="#222" class="n">Peripheral blood</text>
<line x1="219.9" y1="133.5" x2="274.4" y2="133.5" stroke="#2a2a2a" stroke-width="0.85"/>
<text x="165.9" y="169" font-size="6.3" text-anchor="middle" textLength="49" lengthAdjust="spacingAndGlyphs" transform="rotate(-90 165.9 169)" fill="#333" class="t">% Donor chimerism</text>
<circle cx="190.7" cy="146.4" r="1.1" fill="#3fae3f"/>
<circle cx="193.7" cy="147.6" r="1.1" fill="#3fae3f"/>
<circle cx="191.67" cy="147" r="1.1" fill="#3fae3f"/>
<circle cx="192.72" cy="146.8" r="1.1" fill="#3fae3f"/>
<circle cx="192.2" cy="147.2" r="1.1" fill="#3fae3f"/>
<line x1="190.2" y1="147" x2="194.2" y2="147" stroke="#3fae3f" stroke-width="0.6"/>
<circle cx="211.1" cy="145.2" r="1.1" fill="#3fae3f"/>
<circle cx="214.1" cy="145.2" r="1.1" fill="#3fae3f"/>
<circle cx="212.07" cy="145.4" r="1.1" fill="#3fae3f"/>
<circle cx="213.12" cy="145.2" r="1.1" fill="#3fae3f"/>
<circle cx="212.6" cy="145.3" r="1.1" fill="#3fae3f"/>
<line x1="210.6" y1="145.26" x2="214.6" y2="145.26" stroke="#3fae3f" stroke-width="0.6"/>
<circle cx="231.6" cy="145.2" r="1.1" fill="#3fae3f"/>
<circle cx="234.6" cy="145.2" r="1.1" fill="#3fae3f"/>
<circle cx="232.57" cy="145.2" r="1.1" fill="#3fae3f"/>
<circle cx="233.62" cy="145.3" r="1.1" fill="#3fae3f"/>
<circle cx="233.1" cy="145.2" r="1.1" fill="#3fae3f"/>
<line x1="231.1" y1="145.22" x2="235.1" y2="145.22" stroke="#3fae3f" stroke-width="0.6"/>
<circle cx="252" cy="146.4" r="1.1" fill="#3fae3f"/>
<circle cx="255" cy="146.2" r="1.1" fill="#3fae3f"/>
<circle cx="252.97" cy="146.6" r="1.1" fill="#3fae3f"/>
<circle cx="254.03" cy="146.4" r="1.1" fill="#3fae3f"/>
<circle cx="253.5" cy="146.3" r="1.1" fill="#3fae3f"/>
<line x1="251.5" y1="146.38" x2="255.5" y2="146.38" stroke="#3fae3f" stroke-width="0.6"/>
<circle cx="272.4" cy="145.2" r="1.1" fill="#3fae3f"/>
<circle cx="275.4" cy="145.2" r="1.1" fill="#3fae3f"/>
<circle cx="273.38" cy="148.1" r="1.1" fill="#3fae3f"/>
<circle cx="274.42" cy="151.2" r="1.1" fill="#3fae3f"/>
<circle cx="273.9" cy="145.3" r="1.1" fill="#3fae3f"/>
<line x1="271.9" y1="147" x2="275.9" y2="147" stroke="#3fae3f" stroke-width="0.6"/>
<circle cx="292" cy="148.8" r="1.1" fill="#3fae3f"/>
<circle cx="295" cy="150.5" r="1.1" fill="#3fae3f"/>
<circle cx="292.98" cy="152.2" r="1.1" fill="#3fae3f"/>
<circle cx="294.02" cy="153.6" r="1.1" fill="#3fae3f"/>
<circle cx="293.5" cy="149.5" r="1.1" fill="#3fae3f"/>
<line x1="291.5" y1="150.92" x2="295.5" y2="150.92" stroke="#3fae3f" stroke-width="0.6"/>
<rect x="197.4" y="144.1" width="2.2" height="2.2" fill="#163f70"/>
<rect x="200.4" y="144.1" width="2.2" height="2.2" fill="#163f70"/>
<rect x="198.38" y="147.7" width="2.2" height="2.2" fill="#163f70"/>
<rect x="199.43" y="147.7" width="2.2" height="2.2" fill="#163f70"/>
<rect x="198.9" y="144.2" width="2.2" height="2.2" fill="#163f70"/>
<line x1="198" y1="146.66" x2="202" y2="146.66" stroke="#163f70" stroke-width="0.6"/>
<rect x="217.9" y="144.1" width="2.2" height="2.2" fill="#163f70"/>
<rect x="220.9" y="144.1" width="2.2" height="2.2" fill="#163f70"/>
<rect x="218.88" y="144.1" width="2.2" height="2.2" fill="#163f70"/>
<rect x="219.93" y="144.2" width="2.2" height="2.2" fill="#163f70"/>
<rect x="219.4" y="144.1" width="2.2" height="2.2" fill="#163f70"/>
<line x1="218.5" y1="145.22" x2="222.5" y2="145.22" stroke="#163f70" stroke-width="0.6"/>
<rect x="238.3" y="144.1" width="2.2" height="2.2" fill="#163f70"/>
<rect x="241.3" y="144.1" width="2.2" height="2.2" fill="#163f70"/>
<rect x="239.28" y="144.1" width="2.2" height="2.2" fill="#163f70"/>
<rect x="240.33" y="144.2" width="2.2" height="2.2" fill="#163f70"/>
<rect x="239.8" y="144.1" width="2.2" height="2.2" fill="#163f70"/>
<line x1="238.9" y1="145.22" x2="242.9" y2="145.22" stroke="#163f70" stroke-width="0.6"/>
<rect x="258.7" y="145.8" width="2.2" height="2.2" fill="#163f70"/>
<rect x="261.7" y="145.8" width="2.2" height="2.2" fill="#163f70"/>
<rect x="259.68" y="145.6" width="2.2" height="2.2" fill="#163f70"/>
<rect x="260.72" y="145.9" width="2.2" height="2.2" fill="#163f70"/>
<rect x="260.2" y="145.7" width="2.2" height="2.2" fill="#163f70"/>
<line x1="259.3" y1="146.86" x2="263.3" y2="146.86" stroke="#163f70" stroke-width="0.6"/>
<rect x="279.2" y="144.1" width="2.2" height="2.2" fill="#163f70"/>
<rect x="282.2" y="144.1" width="2.2" height="2.2" fill="#163f70"/>
<rect x="280.18" y="148.4" width="2.2" height="2.2" fill="#163f70"/>
<rect x="281.22" y="169.4" width="2.2" height="2.2" fill="#163f70"/>
<rect x="280.7" y="144.2" width="2.2" height="2.2" fill="#163f70"/>
<line x1="279.8" y1="151.14" x2="283.8" y2="151.14" stroke="#163f70" stroke-width="0.6"/>
<rect x="299" y="146.5" width="2.2" height="2.2" fill="#163f70"/>
<rect x="302" y="147.7" width="2.2" height="2.2" fill="#163f70"/>
<rect x="299.98" y="148.9" width="2.2" height="2.2" fill="#163f70"/>
<rect x="301.02" y="147.1" width="2.2" height="2.2" fill="#163f70"/>
<rect x="300.5" y="147.9" width="2.2" height="2.2" fill="#163f70"/>
<line x1="299.6" y1="148.72" x2="303.6" y2="148.72" stroke="#163f70" stroke-width="0.6"/>
<line x1="349.5" y1="143.6" x2="349.5" y2="196.5" stroke="#1a1a1a" stroke-width="1"/>
<line x1="349" y1="196.5" x2="464.2" y2="196.5" stroke="#1a1a1a" stroke-width="1"/>
<line x1="346.6" y1="196.5" x2="349.4" y2="196.5" stroke="#1a1a1a" stroke-width="1"/>
<text x="343.5" y="198.3" font-size="5.4" text-anchor="end" textLength="6.5" lengthAdjust="spacingAndGlyphs" fill="#333">90</text>
<line x1="346.6" y1="186.5" x2="349.4" y2="186.5" stroke="#1a1a1a" stroke-width="1"/>
<text x="343.5" y="188.4" font-size="5.4" text-anchor="end" textLength="6.5" lengthAdjust="spacingAndGlyphs" fill="#333">92</text>
<line x1="346.6" y1="176.5" x2="349.4" y2="176.5" stroke="#1a1a1a" stroke-width="1"/>
<text x="343.5" y="178.5" font-size="5.4" text-anchor="end" textLength="6.5" lengthAdjust="spacingAndGlyphs" fill="#333">94</text>
<line x1="346.6" y1="166.5" x2="349.4" y2="166.5" stroke="#1a1a1a" stroke-width="1"/>
<text x="343.5" y="168.6" font-size="5.4" text-anchor="end" textLength="6.5" lengthAdjust="spacingAndGlyphs" fill="#333">96</text>
<line x1="346.6" y1="156.5" x2="349.4" y2="156.5" stroke="#1a1a1a" stroke-width="1"/>
<text x="343.5" y="158.7" font-size="5.4" text-anchor="end" textLength="6.5" lengthAdjust="spacingAndGlyphs" fill="#333">98</text>
<line x1="346.6" y1="146.5" x2="349.4" y2="146.5" stroke="#1a1a1a" stroke-width="1"/>
<text x="343.5" y="148.8" font-size="5.4" text-anchor="end" textLength="9.75" lengthAdjust="spacingAndGlyphs" fill="#333">100</text>
<line x1="357.5" y1="196.1" x2="357.5" y2="198.5" stroke="#1a1a1a" stroke-width="1"/>
<text x="360.5" y="205.3" font-size="6.2" text-anchor="end" transform="rotate(-45 360.5 205.3)" fill="#2a2a2a">CD3</text>
<line x1="376.5" y1="196.1" x2="376.5" y2="198.5" stroke="#1a1a1a" stroke-width="1"/>
<text x="379.9" y="205.3" font-size="6.2" text-anchor="end" transform="rotate(-45 379.9 205.3)" fill="#2a2a2a">CD4</text>
<line x1="396.5" y1="196.1" x2="396.5" y2="198.5" stroke="#1a1a1a" stroke-width="1"/>
<text x="399.2" y="205.3" font-size="6.2" text-anchor="end" transform="rotate(-45 399.2 205.3)" fill="#2a2a2a">CD8</text>
<line x1="415.5" y1="196.1" x2="415.5" y2="198.5" stroke="#1a1a1a" stroke-width="1"/>
<text x="418.6" y="205.3" font-size="6.2" text-anchor="end" transform="rotate(-45 418.6 205.3)" fill="#2a2a2a">CD19</text>
<line x1="434.5" y1="196.1" x2="434.5" y2="198.5" stroke="#1a1a1a" stroke-width="1"/>
<text x="437.9" y="205.3" font-size="6.2" text-anchor="end" transform="rotate(-45 437.9 205.3)" fill="#2a2a2a">NK1.1</text>
<line x1="454.5" y1="196.1" x2="454.5" y2="198.5" stroke="#1a1a1a" stroke-width="1"/>
<text x="457.2" y="205.3" font-size="6.2" text-anchor="end" transform="rotate(-45 457.2 205.3)" fill="#2a2a2a">CD11b</text>
<text x="406.4" y="130.5" font-size="8" text-anchor="middle" textLength="23.8" lengthAdjust="spacingAndGlyphs" fill="#222" class="n">Spleen</text>
<line x1="395" y1="133.5" x2="417.8" y2="133.5" stroke="#2a2a2a" stroke-width="0.85"/>
<text x="327.8" y="169.4" font-size="6.3" text-anchor="middle" textLength="49" lengthAdjust="spacingAndGlyphs" transform="rotate(-90 327.8 169.4)" fill="#333" class="t">% Donor chimerism</text>
<circle cx="351.9" cy="146.5" r="1.1" fill="#3fae3f"/>
<circle cx="354.3" cy="147.3" r="1.1" fill="#3fae3f"/>
<circle cx="352.68" cy="148.1" r="1.1" fill="#3fae3f"/>
<circle cx="353.52" cy="152.7" r="1.1" fill="#3fae3f"/>
<circle cx="353.1" cy="147" r="1.1" fill="#3fae3f"/>
<line x1="351.1" y1="148.32" x2="355.1" y2="148.32" stroke="#3fae3f" stroke-width="0.6"/>
<circle cx="371.7" cy="146.9" r="1.1" fill="#3fae3f"/>
<circle cx="374.1" cy="146.9" r="1.1" fill="#3fae3f"/>
<circle cx="372.48" cy="149.6" r="1.1" fill="#3fae3f"/>
<circle cx="373.32" cy="146.9" r="1.1" fill="#3fae3f"/>
<circle cx="372.9" cy="147.2" r="1.1" fill="#3fae3f"/>
<line x1="370.9" y1="147.5" x2="374.9" y2="147.5" stroke="#3fae3f" stroke-width="0.6"/>
<circle cx="391.5" cy="147" r="1.1" fill="#3fae3f"/>
<circle cx="393.9" cy="148" r="1.1" fill="#3fae3f"/>
<circle cx="392.28" cy="149.2" r="1.1" fill="#3fae3f"/>
<circle cx="393.12" cy="160.4" r="1.1" fill="#3fae3f"/>
<circle cx="392.7" cy="147.6" r="1.1" fill="#3fae3f"/>
<line x1="390.7" y1="150.44" x2="394.7" y2="150.44" stroke="#3fae3f" stroke-width="0.6"/>
<circle cx="410.1" cy="147.7" r="1.1" fill="#3fae3f"/>
<circle cx="412.5" cy="150" r="1.1" fill="#3fae3f"/>
<circle cx="410.88" cy="153" r="1.1" fill="#3fae3f"/>
<circle cx="411.72" cy="151.5" r="1.1" fill="#3fae3f"/>
<circle cx="411.3" cy="149" r="1.1" fill="#3fae3f"/>
<line x1="409.3" y1="150.24" x2="413.3" y2="150.24" stroke="#3fae3f" stroke-width="0.6"/>
<circle cx="430.8" cy="150" r="1.1" fill="#3fae3f"/>
<circle cx="433.2" cy="152" r="1.1" fill="#3fae3f"/>
<circle cx="431.58" cy="155" r="1.1" fill="#3fae3f"/>
<circle cx="432.42" cy="163.6" r="1.1" fill="#3fae3f"/>
<circle cx="432" cy="151" r="1.1" fill="#3fae3f"/>
<line x1="430" y1="154.32" x2="434" y2="154.32" stroke="#3fae3f" stroke-width="0.6"/>
<circle cx="450.6" cy="157" r="1.1" fill="#3fae3f"/>
<circle cx="453" cy="159" r="1.1" fill="#3fae3f"/>
<circle cx="451.38" cy="160.5" r="1.1" fill="#3fae3f"/>
<circle cx="452.22" cy="162.7" r="1.1" fill="#3fae3f"/>
<circle cx="451.8" cy="158" r="1.1" fill="#3fae3f"/>
<line x1="449.8" y1="159.44" x2="453.8" y2="159.44" stroke="#3fae3f" stroke-width="0.6"/>
<rect x="358.5" y="145.4" width="2.2" height="2.2" fill="#163f70"/>
<rect x="360.9" y="146.4" width="2.2" height="2.2" fill="#163f70"/>
<rect x="359.28" y="148.5" width="2.2" height="2.2" fill="#163f70"/>
<rect x="360.12" y="146.9" width="2.2" height="2.2" fill="#163f70"/>
<rect x="359.7" y="145.9" width="2.2" height="2.2" fill="#163f70"/>
<line x1="358.8" y1="147.72" x2="362.8" y2="147.72" stroke="#163f70" stroke-width="0.6"/>
<rect x="378.3" y="146.2" width="2.2" height="2.2" fill="#163f70"/>
<rect x="380.7" y="145.9" width="2.2" height="2.2" fill="#163f70"/>
<rect x="379.08" y="146.5" width="2.2" height="2.2" fill="#163f70"/>
<rect x="379.92" y="146.2" width="2.2" height="2.2" fill="#163f70"/>
<rect x="379.5" y="146.4" width="2.2" height="2.2" fill="#163f70"/>
<line x1="378.6" y1="147.34" x2="382.6" y2="147.34" stroke="#163f70" stroke-width="0.6"/>
<rect x="397.5" y="146.2" width="2.2" height="2.2" fill="#163f70"/>
<rect x="399.9" y="147.4" width="2.2" height="2.2" fill="#163f70"/>
<rect x="398.28" y="149.1" width="2.2" height="2.2" fill="#163f70"/>
<rect x="399.12" y="147.9" width="2.2" height="2.2" fill="#163f70"/>
<rect x="398.7" y="146.9" width="2.2" height="2.2" fill="#163f70"/>
<line x1="397.8" y1="148.6" x2="401.8" y2="148.6" stroke="#163f70" stroke-width="0.6"/>
<rect x="417.3" y="145.9" width="2.2" height="2.2" fill="#163f70"/>
<rect x="419.7" y="146.9" width="2.2" height="2.2" fill="#163f70"/>
<rect x="418.08" y="148.1" width="2.2" height="2.2" fill="#163f70"/>
<rect x="418.92" y="155.8" width="2.2" height="2.2" fill="#163f70"/>
<rect x="418.5" y="155.4" width="2.2" height="2.2" fill="#163f70"/>
<line x1="417.6" y1="151.52" x2="421.6" y2="151.52" stroke="#163f70" stroke-width="0.6"/>
<rect x="436.3" y="146.2" width="2.2" height="2.2" fill="#163f70"/>
<rect x="438.7" y="146.9" width="2.2" height="2.2" fill="#163f70"/>
<rect x="437.08" y="148.1" width="2.2" height="2.2" fill="#163f70"/>
<rect x="437.92" y="147.4" width="2.2" height="2.2" fill="#163f70"/>
<rect x="437.5" y="146.7" width="2.2" height="2.2" fill="#163f70"/>
<line x1="436.6" y1="148.16" x2="440.6" y2="148.16" stroke="#163f70" stroke-width="0.6"/>
<rect x="456.1" y="149.1" width="2.2" height="2.2" fill="#163f70"/>
<rect x="458.5" y="150.9" width="2.2" height="2.2" fill="#163f70"/>
<rect x="456.88" y="152.9" width="2.2" height="2.2" fill="#163f70"/>
<rect x="457.72" y="154.9" width="2.2" height="2.2" fill="#163f70"/>
<rect x="457.3" y="151.9" width="2.2" height="2.2" fill="#163f70"/>
<line x1="456.4" y1="153.04" x2="460.4" y2="153.04" stroke="#163f70" stroke-width="0.6"/>
<polyline points="431,142.6 431,140.6 439.6,140.6 439.6,142.6" fill="none" stroke="#222" stroke-width="0.8" stroke-linejoin="round"/>
<text x="435.3" y="140.3" font-size="4.6" text-anchor="middle" fill="#222">**</text>
<polyline points="449.8,142.6 449.8,140.6 458.8,140.6 458.8,142.6" fill="none" stroke="#222" stroke-width="0.8" stroke-linejoin="round"/>
<text x="454.3" y="140.3" font-size="4.6" text-anchor="middle" fill="#222">*</text>
<line x1="32.5" y1="260.3" x2="32.5" y2="307.5" stroke="#1a1a1a" stroke-width="1"/>
<line x1="32.3" y1="307.1" x2="77.9" y2="307.1" stroke="#1a1a1a" stroke-width="1"/>
<line x1="30.7" y1="307.5" x2="32.7" y2="307.5" stroke="#1a1a1a" stroke-width="1"/>
<text x="26.4" y="309" font-size="5.4" text-anchor="end" textLength="2.9" lengthAdjust="spacingAndGlyphs" fill="#333">0</text>
<line x1="30.7" y1="298.5" x2="32.7" y2="298.5" stroke="#1a1a1a" stroke-width="1"/>
<text x="26.4" y="300.04" font-size="5.4" text-anchor="end" textLength="2.9" lengthAdjust="spacingAndGlyphs" fill="#333">1</text>
<line x1="30.7" y1="289.5" x2="32.7" y2="289.5" stroke="#1a1a1a" stroke-width="1"/>
<text x="26.4" y="291.08" font-size="5.4" text-anchor="end" textLength="2.9" lengthAdjust="spacingAndGlyphs" fill="#333">2</text>
<line x1="30.7" y1="280.5" x2="32.7" y2="280.5" stroke="#1a1a1a" stroke-width="1"/>
<text x="26.4" y="282.12" font-size="5.4" text-anchor="end" textLength="2.9" lengthAdjust="spacingAndGlyphs" fill="#333">3</text>
<line x1="30.7" y1="271.5" x2="32.7" y2="271.5" stroke="#1a1a1a" stroke-width="1"/>
<text x="26.4" y="273.16" font-size="5.4" text-anchor="end" textLength="2.9" lengthAdjust="spacingAndGlyphs" fill="#333">4</text>
<line x1="30.7" y1="262.5" x2="32.7" y2="262.5" stroke="#1a1a1a" stroke-width="1"/>
<text x="26.4" y="264.2" font-size="5.4" text-anchor="end" textLength="2.9" lengthAdjust="spacingAndGlyphs" fill="#333">5</text>
<rect x="36.3" y="291.42" width="6.5" height="15.68" fill="#7a4416"/>
<line x1="39.5" y1="307.1" x2="39.5" y2="308.9" stroke="#1a1a1a" stroke-width="1"/>
<line x1="39.5" y1="291.42" x2="39.5" y2="288.73" stroke="#1a1a1a" stroke-width="1"/>
<line x1="37.75" y1="288.5" x2="41.35" y2="288.5" stroke="#1a1a1a" stroke-width="1"/>
<path d="M38.23,285.65 h2.64 l-1.32,2.16 z" fill="#111"/>
<path d="M36.23,288.79 h2.64 l-1.32,2.16 z" fill="#111"/>
<path d="M40.23,289.24 h2.64 l-1.32,2.16 z" fill="#111"/>
<path d="M38.23,291.03 h2.64 l-1.32,2.16 z" fill="#111"/>
<path d="M37.23,292.82 h2.64 l-1.32,2.16 z" fill="#111"/>
<rect x="46.8" y="294.29" width="6.2" height="12.81" fill="#3cb54a"/>
<line x1="49.5" y1="307.1" x2="49.5" y2="308.9" stroke="#1a1a1a" stroke-width="1"/>
<line x1="49.5" y1="294.29" x2="49.5" y2="290.97" stroke="#1a1a1a" stroke-width="1"/>
<line x1="48.1" y1="290.5" x2="51.7" y2="290.5" stroke="#1a1a1a" stroke-width="1"/>
<path d="M48.58,285.54 h2.64 l-1.32,-2.16 z" fill="#111"/>
<path d="M46.78,298.98 h2.64 l-1.32,-2.16 z" fill="#111"/>
<path d="M50.38,299.88 h2.64 l-1.32,-2.16 z" fill="#111"/>
<path d="M48.58,294.5 h2.64 l-1.32,-2.16 z" fill="#111"/>
<rect x="57.4" y="289.63" width="6.5" height="17.47" fill="#1d4f8c"/>
<line x1="60.5" y1="307.1" x2="60.5" y2="308.9" stroke="#1a1a1a" stroke-width="1"/>
<line x1="60.5" y1="289.63" x2="60.5" y2="286.04" stroke="#1a1a1a" stroke-width="1"/>
<line x1="58.85" y1="286.5" x2="62.45" y2="286.5" stroke="#1a1a1a" stroke-width="1"/>
<rect x="59.57" y="278.69" width="2.16" height="2.16" fill="#111"/>
<rect x="61.07" y="292.58" width="2.16" height="2.16" fill="#111"/>
<rect x="58.07" y="290.79" width="2.16" height="2.16" fill="#111"/>
<rect x="67.8" y="289.18" width="6.2" height="17.92" fill="#e0193c"/>
<line x1="70.5" y1="307.1" x2="70.5" y2="308.9" stroke="#1a1a1a" stroke-width="1"/>
<line x1="70.5" y1="289.18" x2="70.5" y2="285.15" stroke="#1a1a1a" stroke-width="1"/>
<line x1="69.1" y1="285.5" x2="72.7" y2="285.5" stroke="#1a1a1a" stroke-width="1"/>
<circle cx="70.9" cy="264.99" r="1.14" fill="#111"/>
<circle cx="70.9" cy="284.25" r="1.14" fill="#111"/>
<circle cx="69.3" cy="294.56" r="1.14" fill="#111"/>
<circle cx="72.5" cy="298.14" r="1.14" fill="#111"/>
<circle cx="70.9" cy="287.39" r="1.14" fill="#111"/>
<text x="16.6" y="280.4" font-size="5.6" text-anchor="middle" textLength="60" lengthAdjust="spacingAndGlyphs" transform="rotate(-90 16.6 280.4)" fill="#2a2a2a" class="r">CD4<tspan font-size="4.03" dy="-3.1">+</tspan><tspan dy="3.1"> CD25</tspan><tspan font-size="4.03" dy="-3.1">+</tspan><tspan dy="3.1"> FoxP3</tspan><tspan font-size="4.03" dy="-3.1">+</tspan><tspan dy="3.1"> (%)</tspan></text>
<line x1="111.5" y1="260.1" x2="111.5" y2="307.6" stroke="#1a1a1a" stroke-width="1"/>
<line x1="110.6" y1="307.2" x2="156.6" y2="307.2" stroke="#1a1a1a" stroke-width="1"/>
<line x1="109" y1="307.5" x2="111" y2="307.5" stroke="#1a1a1a" stroke-width="1"/>
<text x="104.9" y="309.1" font-size="5.4" text-anchor="end" textLength="2.9" lengthAdjust="spacingAndGlyphs" fill="#333">0</text>
<line x1="109" y1="295.5" x2="111" y2="295.5" stroke="#1a1a1a" stroke-width="1"/>
<text x="104.9" y="297.82" font-size="5.4" text-anchor="end" textLength="2.9" lengthAdjust="spacingAndGlyphs" fill="#333">2</text>
<line x1="109" y1="284.5" x2="111" y2="284.5" stroke="#1a1a1a" stroke-width="1"/>
<text x="104.9" y="286.55" font-size="5.4" text-anchor="end" textLength="2.9" lengthAdjust="spacingAndGlyphs" fill="#333">4</text>
<line x1="109" y1="273.5" x2="111" y2="273.5" stroke="#1a1a1a" stroke-width="1"/>
<text x="104.9" y="275.27" font-size="5.4" text-anchor="end" textLength="2.9" lengthAdjust="spacingAndGlyphs" fill="#333">6</text>
<line x1="109" y1="262.5" x2="111" y2="262.5" stroke="#1a1a1a" stroke-width="1"/>
<text x="104.9" y="264" font-size="5.4" text-anchor="end" textLength="2.9" lengthAdjust="spacingAndGlyphs" fill="#333">8</text>
<rect x="114.9" y="295.64" width="6.5" height="11.56" fill="#7a4416"/>
<line x1="118.5" y1="307.2" x2="118.5" y2="309" stroke="#1a1a1a" stroke-width="1"/>
<line x1="118.5" y1="295.64" x2="118.5" y2="294.23" stroke="#1a1a1a" stroke-width="1"/>
<line x1="116.35" y1="294.5" x2="119.95" y2="294.5" stroke="#1a1a1a" stroke-width="1"/>
<path d="M116.83,293.96 h2.64 l-1.32,2.16 z" fill="#111"/>
<path d="M115.03,295.09 h2.64 l-1.32,2.16 z" fill="#111"/>
<path d="M118.63,294.52 h2.64 l-1.32,2.16 z" fill="#111"/>
<rect x="125.2" y="291.42" width="6.5" height="15.78" fill="#3cb54a"/>
<line x1="128.5" y1="307.2" x2="128.5" y2="309" stroke="#1a1a1a" stroke-width="1"/>
<line x1="128.5" y1="291.42" x2="128.5" y2="288.6" stroke="#1a1a1a" stroke-width="1"/>
<line x1="126.65" y1="288.5" x2="130.25" y2="288.5" stroke="#1a1a1a" stroke-width="1"/>
<path d="M127.13,284.36 h2.64 l-1.32,-2.16 z" fill="#111"/>
<path d="M125.63,290 h2.64 l-1.32,-2.16 z" fill="#111"/>
<path d="M128.63,293.95 h2.64 l-1.32,-2.16 z" fill="#111"/>
<path d="M127.13,299.58 h2.64 l-1.32,-2.16 z" fill="#111"/>
<path d="M128.13,291.13 h2.64 l-1.32,-2.16 z" fill="#111"/>
<rect x="135.9" y="284.09" width="6.4" height="23.11" fill="#1d4f8c"/>
<line x1="139.5" y1="307.2" x2="139.5" y2="309" stroke="#1a1a1a" stroke-width="1"/>
<line x1="139.5" y1="284.09" x2="139.5" y2="281.27" stroke="#1a1a1a" stroke-width="1"/>
<line x1="137.3" y1="281.5" x2="140.9" y2="281.5" stroke="#1a1a1a" stroke-width="1"/>
<rect x="138.02" y="274.55" width="2.16" height="2.16" fill="#111"/>
<rect x="136.52" y="284.7" width="2.16" height="2.16" fill="#111"/>
<rect x="139.52" y="286.39" width="2.16" height="2.16" fill="#111"/>
<rect x="146.2" y="290.01" width="6.6" height="17.19" fill="#e0193c"/>
<line x1="149.5" y1="307.2" x2="149.5" y2="309" stroke="#1a1a1a" stroke-width="1"/>
<line x1="149.5" y1="290.01" x2="149.5" y2="285.21" stroke="#1a1a1a" stroke-width="1"/>
<line x1="147.7" y1="285.5" x2="151.3" y2="285.5" stroke="#1a1a1a" stroke-width="1"/>
<circle cx="149.5" cy="266.61" r="1.14" fill="#111"/>
<circle cx="149.5" cy="285.21" r="1.14" fill="#111"/>
<circle cx="147.9" cy="295.93" r="1.14" fill="#111"/>
<circle cx="151.1" cy="298.18" r="1.14" fill="#111"/>
<circle cx="149.5" cy="288.03" r="1.14" fill="#111"/>
<text x="96.3" y="281.8" font-size="5.6" text-anchor="middle" textLength="58.8" lengthAdjust="spacingAndGlyphs" transform="rotate(-90 96.3 281.8)" fill="#2a2a2a" class="r">CD4<tspan font-size="4.03" dy="-3.1">+</tspan><tspan dy="3.1"> CD44</tspan><tspan font-size="4.03" dy="-3.1">hi</tspan><tspan dy="3.1"> CD62L</tspan><tspan font-size="4.03" dy="-3.1">−</tspan><tspan dy="3.1"> (%)</tspan></text>
<line x1="206.5" y1="259.9" x2="206.5" y2="307.6" stroke="#1a1a1a" stroke-width="1"/>
<line x1="205.9" y1="307.2" x2="250" y2="307.2" stroke="#1a1a1a" stroke-width="1"/>
<line x1="204.3" y1="307.5" x2="206.3" y2="307.5" stroke="#1a1a1a" stroke-width="1"/>
<text x="200" y="309.1" font-size="5.4" text-anchor="end" textLength="7.2" lengthAdjust="spacingAndGlyphs" fill="#333">0.0</text>
<line x1="204.3" y1="292.5" x2="206.3" y2="292.5" stroke="#1a1a1a" stroke-width="1"/>
<text x="200" y="294" font-size="5.4" text-anchor="end" textLength="7.2" lengthAdjust="spacingAndGlyphs" fill="#333">0.5</text>
<line x1="204.3" y1="277.5" x2="206.3" y2="277.5" stroke="#1a1a1a" stroke-width="1"/>
<text x="200" y="278.9" font-size="5.4" text-anchor="end" textLength="7.2" lengthAdjust="spacingAndGlyphs" fill="#333">1.0</text>
<line x1="204.3" y1="261.5" x2="206.3" y2="261.5" stroke="#1a1a1a" stroke-width="1"/>
<text x="200" y="263.8" font-size="5.4" text-anchor="end" textLength="7.2" lengthAdjust="spacingAndGlyphs" fill="#333">1.5</text>
<rect x="210" y="280.02" width="6.2" height="27.18" fill="#7a4416"/>
<line x1="213.5" y1="307.2" x2="213.5" y2="309" stroke="#1a1a1a" stroke-width="1"/>
<line x1="213.5" y1="280.02" x2="213.5" y2="277" stroke="#1a1a1a" stroke-width="1"/>
<line x1="211.3" y1="277.5" x2="214.9" y2="277.5" stroke="#1a1a1a" stroke-width="1"/>
<path d="M211.78,272.54 h2.64 l-1.32,2.16 z" fill="#111"/>
<path d="M210.28,282.2 h2.64 l-1.32,2.16 z" fill="#111"/>
<path d="M213.28,280.69 h2.64 l-1.32,2.16 z" fill="#111"/>
<rect x="220.3" y="289.68" width="6.7" height="17.52" fill="#3cb54a"/>
<line x1="223.5" y1="307.2" x2="223.5" y2="309" stroke="#1a1a1a" stroke-width="1"/>
<line x1="223.5" y1="289.68" x2="223.5" y2="288.48" stroke="#1a1a1a" stroke-width="1"/>
<line x1="221.85" y1="288.5" x2="225.45" y2="288.5" stroke="#1a1a1a" stroke-width="1"/>
<path d="M222.33,285.39 h2.64 l-1.32,-2.16 z" fill="#111"/>
<path d="M220.83,292.94 h2.64 l-1.32,-2.16 z" fill="#111"/>
<path d="M223.83,298.98 h2.64 l-1.32,-2.16 z" fill="#111"/>
<rect x="231" y="292.1" width="6.3" height="15.1" fill="#1d4f8c"/>
<line x1="234.5" y1="307.2" x2="234.5" y2="309" stroke="#1a1a1a" stroke-width="1"/>
<line x1="234.5" y1="292.1" x2="234.5" y2="288.48" stroke="#1a1a1a" stroke-width="1"/>
<line x1="232.35" y1="288.5" x2="235.95" y2="288.5" stroke="#1a1a1a" stroke-width="1"/>
<rect x="233.07" y="282.87" width="2.16" height="2.16" fill="#111"/>
<rect x="231.57" y="294.04" width="2.16" height="2.16" fill="#111"/>
<rect x="234.57" y="297.06" width="2.16" height="2.16" fill="#111"/>
<rect x="241.3" y="285.76" width="6.6" height="21.44" fill="#e0193c"/>
<line x1="244.5" y1="307.2" x2="244.5" y2="309" stroke="#1a1a1a" stroke-width="1"/>
<line x1="244.5" y1="285.76" x2="244.5" y2="282.44" stroke="#1a1a1a" stroke-width="1"/>
<line x1="242.8" y1="282.5" x2="246.4" y2="282.5" stroke="#1a1a1a" stroke-width="1"/>
<circle cx="244.6" cy="265.52" r="1.14" fill="#111"/>
<circle cx="243.1" cy="286.06" r="1.14" fill="#111"/>
<circle cx="246.1" cy="289.08" r="1.14" fill="#111"/>
<polyline points="213.2,266.6 213.2,265.1 229.3,265.1 229.3,272.7" fill="none" stroke="#2a2a2a" stroke-width="0.85" stroke-linejoin="round"/>
<polyline points="223.5,274.3 223.5,272.7 234.4,272.7 234.4,274.3" fill="none" stroke="#2a2a2a" stroke-width="0.85" stroke-linejoin="round"/>
<text x="220.6" y="264.2" font-size="4.3" text-anchor="middle" fill="#222">*</text>
<text x="176.2" y="310.6" font-size="5.6" textLength="53.8" lengthAdjust="spacingAndGlyphs" transform="rotate(-90 176.2 310.6)" fill="#2a2a2a" class="r">CD4<tspan font-size="4.03" dy="-3.1">+</tspan><tspan dy="3.1"> CD25</tspan><tspan font-size="4.03" dy="-3.1">+</tspan><tspan dy="3.1"> FoxP3</tspan><tspan font-size="4.03" dy="-3.1">+</tspan><tspan dy="3.1"> :</tspan></text>
<text x="183.4" y="310.6" font-size="5.6" textLength="51" lengthAdjust="spacingAndGlyphs" transform="rotate(-90 183.4 310.6)" fill="#2a2a2a" class="r">CD4<tspan font-size="4.03" dy="-3.1">+</tspan><tspan dy="3.1"> CD44</tspan><tspan font-size="4.03" dy="-3.1">hi</tspan><tspan dy="3.1"> CD62L</tspan><tspan font-size="4.03" dy="-3.1">−</tspan></text>
<line x1="302.5" y1="260.3" x2="302.5" y2="307.5" stroke="#1a1a1a" stroke-width="1"/>
<line x1="301.9" y1="307.1" x2="347.5" y2="307.1" stroke="#1a1a1a" stroke-width="1"/>
<line x1="300.3" y1="307.5" x2="302.3" y2="307.5" stroke="#1a1a1a" stroke-width="1"/>
<text x="298.2" y="309" font-size="5.4" text-anchor="end" textLength="3.75" lengthAdjust="spacingAndGlyphs" fill="#333">0</text>
<line x1="300.3" y1="298.5" x2="302.3" y2="298.5" stroke="#1a1a1a" stroke-width="1"/>
<text x="298.2" y="300.04" font-size="5.4" text-anchor="end" textLength="11.25" lengthAdjust="spacingAndGlyphs" fill="#333">500</text>
<line x1="300.3" y1="289.5" x2="302.3" y2="289.5" stroke="#1a1a1a" stroke-width="1"/>
<text x="298.2" y="291.08" font-size="5.4" text-anchor="end" textLength="15" lengthAdjust="spacingAndGlyphs" fill="#333">1000</text>
<line x1="300.3" y1="280.5" x2="302.3" y2="280.5" stroke="#1a1a1a" stroke-width="1"/>
<text x="298.2" y="282.12" font-size="5.4" text-anchor="end" textLength="15" lengthAdjust="spacingAndGlyphs" fill="#333">1500</text>
<line x1="300.3" y1="271.5" x2="302.3" y2="271.5" stroke="#1a1a1a" stroke-width="1"/>
<text x="298.2" y="273.16" font-size="5.4" text-anchor="end" textLength="15" lengthAdjust="spacingAndGlyphs" fill="#333">2000</text>
<line x1="300.3" y1="262.5" x2="302.3" y2="262.5" stroke="#1a1a1a" stroke-width="1"/>
<text x="298.2" y="264.2" font-size="5.4" text-anchor="end" textLength="15" lengthAdjust="spacingAndGlyphs" fill="#333">2500</text>
<rect x="306.2" y="289.9" width="6.2" height="17.2" fill="#7a4416"/>
<line x1="309.5" y1="307.1" x2="309.5" y2="308.9" stroke="#1a1a1a" stroke-width="1"/>
<line x1="309.5" y1="289.9" x2="309.5" y2="285.06" stroke="#1a1a1a" stroke-width="1"/>
<line x1="307.5" y1="285.5" x2="311.1" y2="285.5" stroke="#1a1a1a" stroke-width="1"/>
<path d="M307.98,269.17 h2.64 l-1.32,2.16 z" fill="#111"/>
<path d="M306.48,295.51 h2.64 l-1.32,2.16 z" fill="#111"/>
<path d="M309.48,291.92 h2.64 l-1.32,2.16 z" fill="#111"/>
<rect x="316.1" y="296.89" width="6.6" height="10.21" fill="#3cb54a"/>
<line x1="319.5" y1="307.1" x2="319.5" y2="308.9" stroke="#1a1a1a" stroke-width="1"/>
<line x1="319.5" y1="296.89" x2="319.5" y2="295.99" stroke="#1a1a1a" stroke-width="1"/>
<line x1="317.6" y1="295.5" x2="321.2" y2="295.5" stroke="#1a1a1a" stroke-width="1"/>
<path d="M318.08,297.37 h2.64 l-1.32,-2.16 z" fill="#111"/>
<path d="M316.58,299.88 h2.64 l-1.32,-2.16 z" fill="#111"/>
<path d="M319.58,298.98 h2.64 l-1.32,-2.16 z" fill="#111"/>
<rect x="326.6" y="286.13" width="6.5" height="20.97" fill="#1d4f8c"/>
<line x1="329.5" y1="307.1" x2="329.5" y2="308.9" stroke="#1a1a1a" stroke-width="1"/>
<line x1="329.5" y1="286.13" x2="329.5" y2="282.01" stroke="#1a1a1a" stroke-width="1"/>
<line x1="328.05" y1="282.5" x2="331.65" y2="282.5" stroke="#1a1a1a" stroke-width="1"/>
<rect x="328.77" y="275.56" width="2.16" height="2.16" fill="#111"/>
<rect x="327.27" y="286.31" width="2.16" height="2.16" fill="#111"/>
<rect x="330.27" y="291.68" width="2.16" height="2.16" fill="#111"/>
<rect x="336.8" y="290.61" width="6.3" height="16.49" fill="#e0193c"/>
<line x1="339.5" y1="307.1" x2="339.5" y2="308.9" stroke="#1a1a1a" stroke-width="1"/>
<line x1="339.5" y1="290.61" x2="339.5" y2="287.03" stroke="#1a1a1a" stroke-width="1"/>
<line x1="338.15" y1="287.5" x2="341.75" y2="287.5" stroke="#1a1a1a" stroke-width="1"/>
<circle cx="338.65" cy="281.65" r="1.14" fill="#111"/>
<circle cx="341.75" cy="279.68" r="1.14" fill="#111"/>
<circle cx="339.95" cy="287.39" r="1.14" fill="#111"/>
<circle cx="338.95" cy="298.14" r="1.14" fill="#111"/>
<text x="268" y="284.6" font-size="5.6" text-anchor="middle" textLength="26.4" lengthAdjust="spacingAndGlyphs" transform="rotate(-90 268 284.6)" fill="#2a2a2a" class="r">FoxP3 MFI</text>
<text x="275.1" y="285" font-size="5.6" text-anchor="middle" textLength="56.8" lengthAdjust="spacingAndGlyphs" transform="rotate(-90 275.1 285)" fill="#2a2a2a" class="r">(CD4<tspan font-size="4.03" dy="-3.1">+</tspan><tspan dy="3.1"> CD25</tspan><tspan font-size="4.03" dy="-3.1">+</tspan><tspan dy="3.1"> FoxP3</tspan><tspan font-size="4.03" dy="-3.1">+</tspan><tspan dy="3.1">)</tspan></text>
<line x1="382.5" y1="250.8" x2="382.5" y2="307.5" stroke="#1a1a1a" stroke-width="1"/>
<line x1="381.9" y1="307.1" x2="433.2" y2="307.1" stroke="#1a1a1a" stroke-width="1"/>
<line x1="380.3" y1="307.5" x2="382.3" y2="307.5" stroke="#1a1a1a" stroke-width="1"/>
<text x="376.2" y="309" font-size="5.4" text-anchor="end" textLength="3" lengthAdjust="spacingAndGlyphs" fill="#333">0</text>
<line x1="380.3" y1="294.5" x2="382.3" y2="294.5" stroke="#1a1a1a" stroke-width="1"/>
<text x="376.2" y="296.38" font-size="5.4" text-anchor="end" textLength="3" lengthAdjust="spacingAndGlyphs" fill="#333">1</text>
<line x1="380.3" y1="281.5" x2="382.3" y2="281.5" stroke="#1a1a1a" stroke-width="1"/>
<text x="376.2" y="283.75" font-size="5.4" text-anchor="end" textLength="3" lengthAdjust="spacingAndGlyphs" fill="#333">2</text>
<line x1="380.3" y1="269.5" x2="382.3" y2="269.5" stroke="#1a1a1a" stroke-width="1"/>
<text x="376.2" y="271.12" font-size="5.4" text-anchor="end" textLength="3" lengthAdjust="spacingAndGlyphs" fill="#333">3</text>
<line x1="380.3" y1="256.5" x2="382.3" y2="256.5" stroke="#1a1a1a" stroke-width="1"/>
<text x="376.2" y="258.5" font-size="5.4" text-anchor="end" textLength="3" lengthAdjust="spacingAndGlyphs" fill="#333">4</text>
<rect x="386.9" y="276.8" width="7" height="30.3" fill="#7a4416"/>
<line x1="390.5" y1="307.1" x2="390.5" y2="308.9" stroke="#1a1a1a" stroke-width="1"/>
<line x1="390.5" y1="276.8" x2="390.5" y2="271.12" stroke="#1a1a1a" stroke-width="1"/>
<line x1="388.6" y1="271.5" x2="392.2" y2="271.5" stroke="#1a1a1a" stroke-width="1"/>
<path d="M389.08,260.81 h2.64 l-1.32,2.16 z" fill="#111"/>
<path d="M387.48,270.28 h2.64 l-1.32,2.16 z" fill="#111"/>
<path d="M390.88,270.91 h2.64 l-1.32,2.16 z" fill="#111"/>
<path d="M389.08,299.95 h2.64 l-1.32,2.16 z" fill="#111"/>
<rect x="398.2" y="290.06" width="7.2" height="17.04" fill="#3cb54a"/>
<line x1="401.5" y1="307.1" x2="401.5" y2="308.9" stroke="#1a1a1a" stroke-width="1"/>
<line x1="401.5" y1="290.06" x2="401.5" y2="284.38" stroke="#1a1a1a" stroke-width="1"/>
<line x1="400" y1="284.5" x2="403.6" y2="284.5" stroke="#1a1a1a" stroke-width="1"/>
<path d="M400.48,275.12 h2.64 l-1.32,-2.16 z" fill="#111"/>
<path d="M400.48,282.06 h2.64 l-1.32,-2.16 z" fill="#111"/>
<path d="M398.68,304.15 h2.64 l-1.32,-2.16 z" fill="#111"/>
<path d="M402.28,303.52 h2.64 l-1.32,-2.16 z" fill="#111"/>
<rect x="410" y="272.13" width="7" height="34.97" fill="#1d4f8c"/>
<line x1="413.5" y1="307.1" x2="413.5" y2="308.9" stroke="#1a1a1a" stroke-width="1"/>
<line x1="413.5" y1="272.13" x2="413.5" y2="269.23" stroke="#1a1a1a" stroke-width="1"/>
<line x1="411.7" y1="269.5" x2="415.3" y2="269.5" stroke="#1a1a1a" stroke-width="1"/>
<rect x="412.42" y="261.83" width="2.16" height="2.16" fill="#111"/>
<rect x="410.92" y="274.46" width="2.16" height="2.16" fill="#111"/>
<rect x="413.92" y="273.2" width="2.16" height="2.16" fill="#111"/>
<rect x="421.6" y="290.69" width="7.2" height="16.41" fill="#e0193c"/>
<line x1="425.5" y1="307.1" x2="425.5" y2="308.9" stroke="#1a1a1a" stroke-width="1"/>
<line x1="425.5" y1="290.69" x2="425.5" y2="287.53" stroke="#1a1a1a" stroke-width="1"/>
<line x1="423.4" y1="287.5" x2="427" y2="287.5" stroke="#1a1a1a" stroke-width="1"/>
<circle cx="425.2" cy="273.01" r="1.14" fill="#111"/>
<circle cx="425.2" cy="279.33" r="1.14" fill="#111"/>
<circle cx="423.4" cy="300.79" r="1.14" fill="#111"/>
<circle cx="427" cy="299.53" r="1.14" fill="#111"/>
<circle cx="425.2" cy="287.53" r="1.14" fill="#111"/>
<text x="368.4" y="280.4" font-size="5.8" text-anchor="middle" textLength="45.5" lengthAdjust="spacingAndGlyphs" transform="rotate(-90 368.4 280.4)" fill="#2a2a2a" class="r">NK1.1<tspan font-size="4.18" dy="-3.1">+</tspan><tspan dy="3.1"> CD3</tspan><tspan font-size="4.18" dy="-3.1">−</tspan><tspan dy="3.1"> (%)</tspan></text>
<path d="M436.1,248.8 h2.8 l-1.4,2.5 z" fill="#111"/>
<text x="441.7" y="251.8" font-size="5" textLength="38.1" lengthAdjust="spacing" fill="#444">Naive F1 (n = 6)</text>
<path d="M436.1,259.6 h2.8 l-1.4,-2.5 z" fill="#111"/>
<text x="441.7" y="260.2" font-size="5" textLength="25" lengthAdjust="spacing" fill="#444">BM (n = 5)</text>
<rect x="436.4" y="265.3" width="2.2" height="2.2" fill="#111"/>
<text x="441.7" y="268.2" font-size="5" textLength="70.3" lengthAdjust="spacing" fill="#444">10 ng SA-FasL-spleen (n = 4)</text>
<circle cx="437.5" cy="274.3" r="1.2" fill="#111"/>
<text x="441.7" y="276.1" font-size="5" textLength="69.8" lengthAdjust="spacing" fill="#444">25 ng SA-FasL-spleen (n = 6)</text>
<line x1="34.5" y1="342.5" x2="34.5" y2="404.9" stroke="#1a1a1a" stroke-width="1"/>
<line x1="34" y1="404.5" x2="119.3" y2="404.5" stroke="#1a1a1a" stroke-width="1"/>
<line x1="32.4" y1="404.5" x2="34.4" y2="404.5" stroke="#1a1a1a" stroke-width="1"/>
<text x="29" y="406.3" font-size="5.2" text-anchor="end" textLength="3.1" lengthAdjust="spacingAndGlyphs" fill="#333">0</text>
<line x1="32.4" y1="393.5" x2="34.4" y2="393.5" stroke="#1a1a1a" stroke-width="1"/>
<text x="29" y="395.12" font-size="5.2" text-anchor="end" textLength="6.2" lengthAdjust="spacingAndGlyphs" fill="#333">20</text>
<line x1="32.4" y1="382.5" x2="34.4" y2="382.5" stroke="#1a1a1a" stroke-width="1"/>
<text x="29" y="383.94" font-size="5.2" text-anchor="end" textLength="6.2" lengthAdjust="spacingAndGlyphs" fill="#333">40</text>
<line x1="32.4" y1="370.5" x2="34.4" y2="370.5" stroke="#1a1a1a" stroke-width="1"/>
<text x="29" y="372.76" font-size="5.2" text-anchor="end" textLength="6.2" lengthAdjust="spacingAndGlyphs" fill="#333">60</text>
<line x1="32.4" y1="359.5" x2="34.4" y2="359.5" stroke="#1a1a1a" stroke-width="1"/>
<text x="29" y="361.58" font-size="5.2" text-anchor="end" textLength="6.2" lengthAdjust="spacingAndGlyphs" fill="#333">80</text>
<line x1="32.4" y1="348.5" x2="34.4" y2="348.5" stroke="#1a1a1a" stroke-width="1"/>
<text x="29" y="350.4" font-size="5.2" text-anchor="end" textLength="9.3" lengthAdjust="spacingAndGlyphs" fill="#333">100</text>
<line x1="34.5" y1="404.5" x2="34.5" y2="406.6" stroke="#1a1a1a" stroke-width="1"/>
<text x="34.4" y="415.6" font-size="5.2" text-anchor="middle" textLength="3.1" lengthAdjust="spacingAndGlyphs" fill="#333">0</text>
<line x1="53.5" y1="404.5" x2="53.5" y2="406.6" stroke="#1a1a1a" stroke-width="1"/>
<text x="53.17" y="415.6" font-size="5.2" text-anchor="middle" textLength="6.2" lengthAdjust="spacingAndGlyphs" fill="#333">10</text>
<line x1="71.5" y1="404.5" x2="71.5" y2="406.6" stroke="#1a1a1a" stroke-width="1"/>
<text x="71.94" y="415.6" font-size="5.2" text-anchor="middle" textLength="6.2" lengthAdjust="spacingAndGlyphs" fill="#333">20</text>
<line x1="90.5" y1="404.5" x2="90.5" y2="406.6" stroke="#1a1a1a" stroke-width="1"/>
<text x="90.71" y="415.6" font-size="5.2" text-anchor="middle" textLength="6.2" lengthAdjust="spacingAndGlyphs" fill="#333">30</text>
<line x1="109.5" y1="404.5" x2="109.5" y2="406.6" stroke="#1a1a1a" stroke-width="1"/>
<text x="109.48" y="415.6" font-size="5.2" text-anchor="middle" textLength="6.2" lengthAdjust="spacingAndGlyphs" fill="#333">40</text>
<text x="77" y="426.6" font-size="7.5" text-anchor="middle" textLength="61.5" lengthAdjust="spacingAndGlyphs" class="t">Days post transplantation</text>
<text x="13.3" y="374.2" font-size="6.8" text-anchor="middle" textLength="32.1" lengthAdjust="spacingAndGlyphs" transform="rotate(-90 13.3 374.2)" class="t">Graft survival</text>
<line x1="71.94" y1="348.6" x2="117.5" y2="348.6" stroke="#b0203c" stroke-width="0.9" stroke-dasharray="2.2 1.6 0.8 1.6"/>
<line x1="74.54" y1="348.6" x2="117.5" y2="348.6" stroke="#5a7c90" stroke-width="0.9" stroke-dasharray="0.9 5.3"/>
<line x1="34.4" y1="348.6" x2="71.94" y2="348.6" stroke="#3e6a80" stroke-width="0.8"/>
<polyline points="34.4,348.6 64.43,348.6 64.43,357.94 70.06,357.94 70.06,367.21 75.69,367.21 75.69,385.89 77.57,385.89 77.57,404.5" fill="none" stroke="#3e6a80" stroke-width="0.8" stroke-linejoin="round"/>
<polyline points="34.4,348.6 71.94,348.6 71.94,362.57 75.69,362.57 75.69,376.55 77.57,376.55 77.57,390.52 81.32,390.52 81.32,404.5" fill="none" stroke="#c41a3c" stroke-width="1.25" stroke-linejoin="round"/>
<circle cx="71.38" cy="362.57" r="1.9" fill="#b8163c"/>
<circle cx="75.32" cy="376.55" r="1.9" fill="#b8163c"/>
<circle cx="77.2" cy="390.52" r="1.9" fill="#b8163c"/>
<circle cx="80.95" cy="404.5" r="1.9" fill="#b8163c"/>
<circle cx="64.43" cy="357.94" r="0.8" fill="#3e6a80"/>
<circle cx="70.06" cy="367.21" r="0.8" fill="#3e6a80"/>
<circle cx="75.69" cy="385.89" r="0.8" fill="#3e6a80"/>
<circle cx="104.04" cy="348.6" r="1.9" fill="#b8163c"/>
<path d="M109.13,349.4 l1.1,-1.9 l1.1,1.9 z" fill="#3e6a80"/>
<circle cx="115.67" cy="348.6" r="1.9" fill="#b8163c"/>
<circle cx="115.67" cy="349.6" r="0.9" fill="#3e5a6a"/>
<line x1="129.2" y1="345.8" x2="135.4" y2="345.8" stroke="#c8203c" stroke-width="0.9"/>
<circle cx="131.3" cy="345.8" r="1.5" fill="#b8163c"/>
<text x="138.2" y="347.6" font-size="5.1" textLength="64.1" lengthAdjust="spacing" fill="#444">LT-SA-FasL—Balb/c (n = 5)</text>
<line x1="129.2" y1="353" x2="135.4" y2="353" stroke="#c8203c" stroke-width="0.9"/>
<circle cx="131.8" cy="353" r="2" fill="#b8163c"/>
<text x="138.2" y="354.8" font-size="5.1" textLength="59.5" lengthAdjust="spacing" fill="#444">LT-SA-FasL—C3H (n = 4)</text>
<line x1="129.2" y1="360.8" x2="135.4" y2="360.8" stroke="#3e6a80" stroke-width="0.9"/>
<circle cx="131.3" cy="360.8" r="0.7" fill="#3e6a80"/>
<text x="138.2" y="362.6" font-size="5.1" textLength="62.6" lengthAdjust="spacing" fill="#444">TBI + BM—Balb/c (n = 6)</text>
<line x1="129.2" y1="368.1" x2="135.4" y2="368.1" stroke="#3e6a80" stroke-width="0.9"/>
<circle cx="131.3" cy="368.1" r="0.7" fill="#3e6a80"/>
<text x="138.2" y="369.9" font-size="5.1" textLength="58.7" lengthAdjust="spacing" fill="#444">TBI + BM—C3H (n = 6)</text>
</svg>
<div class="frame"></div>
</body></html>
